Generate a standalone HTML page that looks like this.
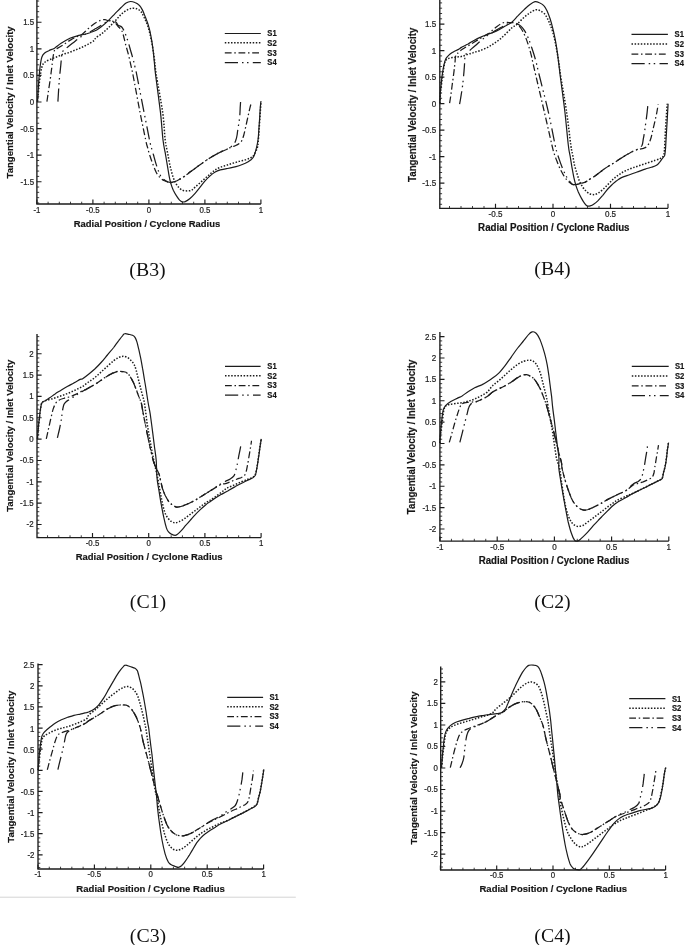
<!DOCTYPE html>
<html><head><meta charset="utf-8"><title>Tangential velocity profiles</title>
<style>
html,body{margin:0;padding:0;background:#fff;}
body{width:685px;height:945px;overflow:hidden;}
svg{display:block;filter:blur(0.35px);font-family:"Liberation Sans",sans-serif;}
</style></head><body>
<svg width="685" height="945" viewBox="0 0 685 945">
<rect width="685" height="945" fill="#fff"/>
<line x1="0" y1="897.2" x2="295.8" y2="897.2" stroke="#d4d4d4" stroke-width="1"/>
<g id="B3"><path d="M36.90 -2.00V204.00H260.90" fill="none" stroke="#1c1c1c" stroke-width="1.35"/>
<path d="M36.90 204.00v-4.6M92.90 204.00v-4.6M148.90 204.00v-4.6M204.90 204.00v-4.6M260.90 204.00v-4.6M36.90 181.72h4.6M36.90 155.15h4.6M36.90 128.57h4.6M36.90 102.00h4.6M36.90 75.42h4.6M36.90 48.85h4.6M36.90 22.28h4.6" fill="none" stroke="#1c1c1c" stroke-width="1.15"/>
<path d="M48.10 204.00v-2.3M59.30 204.00v-2.3M70.50 204.00v-2.3M81.70 204.00v-2.3M104.10 204.00v-2.3M115.30 204.00v-2.3M126.50 204.00v-2.3M137.70 204.00v-2.3M160.10 204.00v-2.3M171.30 204.00v-2.3M182.50 204.00v-2.3M193.70 204.00v-2.3M216.10 204.00v-2.3M227.30 204.00v-2.3M238.50 204.00v-2.3M249.70 204.00v-2.3M36.90 202.99h2.3M36.90 197.67h2.3M36.90 192.35h2.3M36.90 187.04h2.3M36.90 176.41h2.3M36.90 171.09h2.3M36.90 165.78h2.3M36.90 160.47h2.3M36.90 149.84h2.3M36.90 144.52h2.3M36.90 139.20h2.3M36.90 133.89h2.3M36.90 123.26h2.3M36.90 117.94h2.3M36.90 112.63h2.3M36.90 107.31h2.3M36.90 96.69h2.3M36.90 91.37h2.3M36.90 86.06h2.3M36.90 80.74h2.3M36.90 70.11h2.3M36.90 64.80h2.3M36.90 59.48h2.3M36.90 54.16h2.3M36.90 43.53h2.3M36.90 38.22h2.3M36.90 32.91h2.3M36.90 27.59h2.3M36.90 16.96h2.3M36.90 11.65h2.3M36.90 6.33h2.3M36.90 1.02h2.3" fill="none" stroke="#1c1c1c" stroke-width="0.85"/>
<text transform="translate(36.9 212.7) scale(0.92 1)" font-size="8.56" text-anchor="middle" fill="#222" stroke="#222" stroke-width="0.22">-1</text>
<text transform="translate(92.9 212.7) scale(0.92 1)" font-size="8.56" text-anchor="middle" fill="#222" stroke="#222" stroke-width="0.22">-0.5</text>
<text transform="translate(148.9 212.7) scale(0.92 1)" font-size="8.56" text-anchor="middle" fill="#222" stroke="#222" stroke-width="0.22">0</text>
<text transform="translate(204.9 212.7) scale(0.92 1)" font-size="8.56" text-anchor="middle" fill="#222" stroke="#222" stroke-width="0.22">0.5</text>
<text transform="translate(260.9 212.7) scale(0.92 1)" font-size="8.56" text-anchor="middle" fill="#222" stroke="#222" stroke-width="0.22">1</text>
<text transform="translate(34.1 25.2) scale(0.92 1)" font-size="8.56" text-anchor="end" fill="#222" stroke="#222" stroke-width="0.22">1.5</text>
<text transform="translate(34.1 51.7) scale(0.92 1)" font-size="8.56" text-anchor="end" fill="#222" stroke="#222" stroke-width="0.22">1</text>
<text transform="translate(34.1 78.3) scale(0.92 1)" font-size="8.56" text-anchor="end" fill="#222" stroke="#222" stroke-width="0.22">0.5</text>
<text transform="translate(34.1 104.9) scale(0.92 1)" font-size="8.56" text-anchor="end" fill="#222" stroke="#222" stroke-width="0.22">0</text>
<text transform="translate(34.1 131.5) scale(0.92 1)" font-size="8.56" text-anchor="end" fill="#222" stroke="#222" stroke-width="0.22">-0.5</text>
<text transform="translate(34.1 158.0) scale(0.92 1)" font-size="8.56" text-anchor="end" fill="#222" stroke="#222" stroke-width="0.22">-1</text>
<text transform="translate(34.1 184.6) scale(0.92 1)" font-size="8.56" text-anchor="end" fill="#222" stroke="#222" stroke-width="0.22">-1.5</text>
<text transform="translate(147.0 226.8) scale(0.965 1)" font-size="9.76" font-weight="bold" text-anchor="middle" fill="#151515" stroke="#151515" stroke-width="0.18">Radial Position / Cyclone Radius</text>
<text transform="translate(12.8 102.4) rotate(-90) scale(0.965 1)" font-size="9.91" font-weight="bold" text-anchor="middle" fill="#151515" stroke="#151515" stroke-width="0.18">Tangential Velocity / Inlet Velocity</text>
<line x1="224.8" y1="33.5" x2="260.8" y2="33.5" stroke="#1c1c1c" stroke-width="1.2"/>
<text transform="translate(267.3 36.4) scale(0.88 1)" font-size="8.7" font-weight="bold" fill="#151515" stroke="#151515" stroke-width="0.18">S1</text>
<line x1="224.8" y1="42.8" x2="260.8" y2="42.8" stroke="#1c1c1c" stroke-width="1.5" stroke-dasharray="1.5 1.6"/>
<text transform="translate(267.3 45.6) scale(0.88 1)" font-size="8.7" font-weight="bold" fill="#151515" stroke="#151515" stroke-width="0.18">S2</text>
<line x1="224.8" y1="52.8" x2="260.8" y2="52.8" stroke="#1c1c1c" stroke-width="1.25" stroke-dasharray="6.8 2.7 1.5 2.7"/>
<text transform="translate(267.3 55.6) scale(0.88 1)" font-size="8.7" font-weight="bold" fill="#151515" stroke="#151515" stroke-width="0.18">S3</text>
<line x1="224.8" y1="62.5" x2="260.8" y2="62.5" stroke="#1c1c1c" stroke-width="1.25" stroke-dasharray="13.2 4 1.5 3.5 1.5 4.3"/>
<text transform="translate(267.3 65.4) scale(0.88 1)" font-size="8.7" font-weight="bold" fill="#151515" stroke="#151515" stroke-width="0.18">S4</text>
<path d="M37.5 101.6C37.6 99.7 37.9 94.2 38.2 90.3C38.4 86.3 38.7 81.9 39.0 77.7C39.4 73.5 39.8 68.6 40.3 65.1C40.8 61.7 41.2 58.9 41.9 57.0C42.6 55.0 43.3 54.2 44.4 53.2C45.6 52.1 47.2 51.5 48.8 50.7C50.5 49.8 52.4 49.4 54.5 48.2C56.5 46.9 58.5 45.0 61.1 43.3C63.7 41.7 67.2 39.6 69.9 38.3C72.6 37.1 75.1 36.4 77.4 35.8C79.7 35.2 81.6 35.1 83.7 34.5C85.8 34.0 87.9 33.4 90.0 32.7C92.1 31.9 94.2 31.3 96.3 30.2C98.4 29.0 100.4 27.4 102.5 25.8C104.6 24.1 106.8 22.1 108.8 20.1C110.9 18.1 112.8 15.9 114.8 13.8C116.9 11.7 119.2 9.3 121.1 7.5C123.0 5.8 124.6 4.1 126.1 3.1C127.7 2.1 129.1 1.6 130.5 1.5C132.0 1.4 133.5 1.9 134.9 2.5C136.4 3.1 138.1 4.0 139.3 5.3C140.6 6.5 141.4 8.0 142.5 10.1C143.5 12.1 144.5 14.9 145.6 17.6C146.6 20.3 147.8 23.0 148.7 26.4C149.7 29.7 150.5 33.7 151.2 37.7C152.0 41.7 152.6 46.1 153.1 50.3C153.6 54.4 154.0 58.7 154.4 62.8C154.8 66.9 154.6 66.7 155.6 75.0C156.7 83.3 159.2 101.9 160.5 112.7C161.7 123.5 162.2 133.4 163.0 140.0C163.8 146.6 164.4 148.4 165.2 152.6C165.9 156.8 166.6 161.1 167.3 165.1C168.0 169.1 168.6 173.4 169.2 176.4C169.8 179.5 170.1 181.0 170.8 183.3C171.5 185.6 172.4 188.2 173.3 190.3C174.3 192.3 175.4 194.3 176.5 195.9C177.5 197.5 178.7 199.1 179.6 200.1C180.5 201.0 181.2 201.6 182.1 201.8C183.0 202.1 183.9 202.1 185.2 201.6C186.6 201.0 188.4 199.8 190.0 198.5C191.7 197.1 193.4 195.3 195.1 193.4C196.7 191.6 198.4 189.3 200.1 187.2C201.8 185.1 203.4 182.8 205.1 180.9C206.8 179.0 208.5 177.3 210.1 175.9C211.8 174.4 213.5 173.1 215.2 172.1C216.8 171.1 218.3 170.5 220.2 169.9C222.1 169.4 224.4 169.1 226.5 168.7C228.5 168.3 230.6 167.9 232.7 167.4C234.8 167.0 236.9 166.5 239.0 165.8C241.1 165.1 243.4 164.2 245.3 163.3C247.2 162.3 248.8 161.4 250.3 160.2C251.8 158.9 252.8 158.9 254.1 155.8C255.3 152.6 257.0 145.7 257.8 141.5C258.6 137.2 258.5 134.2 258.8 130.2C259.1 126.2 259.4 121.4 259.7 117.6C259.9 113.8 260.1 110.3 260.3 107.6C260.5 104.8 260.8 102.3 260.9 101.3" fill="none" stroke="#1c1c1c" stroke-width="1.2" stroke-linejoin="round"/>
<path d="M37.5 101.6C37.7 99.3 38.3 92.6 38.8 87.7C39.3 82.9 40.0 76.4 40.7 72.7C41.3 68.9 41.8 66.9 42.6 65.1C43.3 63.3 43.8 62.9 45.1 62.0C46.3 61.0 48.2 60.3 50.1 59.5C52.0 58.6 54.3 57.8 56.4 57.0C58.5 56.1 60.6 55.2 62.6 54.4C64.7 53.7 66.8 53.3 68.9 52.6C71.0 51.8 73.1 50.9 75.2 50.1C77.3 49.2 79.4 48.5 81.5 47.5C83.6 46.6 85.7 45.5 87.8 44.4C89.8 43.2 92.7 41.7 94.0 40.6C95.4 39.5 94.6 38.9 96.0 37.7C97.4 36.5 100.2 35.0 102.3 33.3C104.4 31.6 106.5 29.6 108.6 27.6C110.6 25.6 112.7 23.6 114.8 21.4C116.9 19.2 119.0 16.4 121.1 14.4C123.2 12.5 125.5 10.8 127.4 9.8C129.3 8.8 130.7 8.3 132.4 8.2C134.1 8.0 136.0 8.4 137.4 9.0C138.9 9.7 140.0 10.5 141.2 11.9C142.3 13.4 143.3 15.4 144.3 17.6C145.4 19.8 146.5 22.4 147.5 25.1C148.4 27.8 149.1 30.4 150.0 33.9C150.8 37.5 151.8 42.3 152.5 46.5C153.2 50.7 153.8 54.3 154.4 59.0C155.0 63.8 154.9 66.1 156.3 75.0C157.7 83.9 161.2 101.9 162.7 112.7C164.2 123.5 164.4 133.8 165.2 140.0C165.9 146.2 166.4 146.7 167.0 150.1C167.7 153.4 168.3 157.0 168.9 160.1C169.5 163.2 170.1 166.0 170.8 168.9C171.5 171.8 172.5 175.3 173.3 177.7C174.2 180.1 174.9 181.7 175.8 183.3C176.8 185.0 177.8 186.6 179.0 187.7C180.1 188.9 181.4 189.7 182.7 190.3C184.1 190.8 185.7 190.9 187.1 190.9C188.6 190.9 190.2 190.9 191.5 190.3C192.8 189.6 193.6 188.4 195.1 187.2C196.5 185.9 198.4 184.2 200.1 182.8C201.8 181.3 203.4 179.8 205.1 178.4C206.8 176.9 208.5 175.4 210.1 174.0C211.8 172.6 213.5 171.0 215.2 169.9C216.8 168.9 218.3 168.2 220.2 167.4C222.1 166.6 224.4 165.9 226.5 165.2C228.5 164.5 230.6 163.9 232.7 163.3C234.8 162.7 236.9 162.0 239.0 161.4C241.1 160.8 243.4 160.5 245.3 159.9C247.2 159.3 248.9 158.6 250.3 157.9C251.7 157.2 252.3 157.4 253.4 155.8C254.6 154.1 256.5 150.1 257.3 147.8C258.1 145.4 257.9 144.4 258.2 141.5C258.5 138.6 258.8 134.2 259.1 130.2C259.3 126.2 259.7 121.4 259.9 117.6C260.2 113.8 260.4 110.3 260.6 107.6C260.7 104.8 261.0 102.3 261.1 101.3" fill="none" stroke="#1c1c1c" stroke-width="1.5" stroke-dasharray="1.5 1.6" stroke-linejoin="round"/>
<path d="M46.9 101.6C47.2 100.1 47.7 96.3 48.2 92.8C48.7 89.2 49.5 84.2 50.1 80.2C50.7 76.2 51.1 72.5 51.6 68.9C52.1 65.3 52.5 61.6 52.8 58.8C53.2 56.1 53.5 54.1 53.9 52.6C54.2 51.0 54.5 50.1 55.1 49.4C55.7 48.7 55.9 49.2 57.3 48.4C58.8 47.6 61.3 46.1 63.6 44.6C65.9 43.1 68.6 41.0 71.2 39.6C73.7 38.1 76.8 36.7 78.7 35.8C80.6 34.9 80.8 35.2 82.5 33.9C84.1 32.7 86.6 30.0 88.7 28.3C90.8 26.5 92.9 24.6 95.0 23.2C97.1 21.9 99.6 20.7 101.3 20.1C103.0 19.5 104.0 19.7 105.1 19.7C106.1 19.8 106.2 20.1 107.3 20.4C108.4 20.6 110.4 20.8 111.7 21.1C112.9 21.4 113.8 21.5 114.8 22.4C115.9 23.2 116.9 25.2 118.0 26.4C119.0 27.6 120.3 28.3 121.1 29.5C121.9 30.8 122.3 31.5 123.0 33.9C123.7 36.3 124.6 40.4 125.5 44.0C126.4 47.5 127.7 51.5 128.6 55.3C129.6 59.0 130.4 63.3 131.2 66.6C131.9 69.9 131.5 67.3 133.0 75.0C134.5 82.7 138.0 101.9 140.1 112.7C142.2 123.5 144.5 134.2 145.7 140.0C146.9 145.8 146.8 144.8 147.6 147.5C148.3 150.3 149.1 153.4 150.1 156.3C151.0 159.3 152.2 162.4 153.2 165.1C154.3 167.8 155.2 170.6 156.4 172.7C157.5 174.8 158.8 176.3 160.1 177.7C161.5 179.0 162.9 180.0 164.5 180.8C166.2 181.6 168.4 182.4 170.2 182.5C172.0 182.6 173.5 182.0 175.2 181.5C176.9 180.9 178.5 179.9 180.2 178.9C181.9 178.0 183.6 176.9 185.2 175.8C186.9 174.7 188.2 173.5 190.0 172.1C191.9 170.7 194.2 169.0 196.3 167.4C198.4 165.9 200.5 164.4 202.6 162.9C204.7 161.4 206.8 160.0 208.9 158.6C211.0 157.3 213.1 156.0 215.2 154.9C217.2 153.7 219.5 152.5 221.4 151.6C223.3 150.7 225.0 150.1 226.5 149.5C227.9 148.8 228.8 148.2 230.2 147.6C231.7 147.0 233.7 146.4 235.2 145.7C236.8 145.0 238.5 144.1 239.6 143.2C240.8 142.2 241.5 141.4 242.1 140.1C242.8 138.7 243.3 136.7 243.8 135.0C244.3 133.4 244.3 133.1 245.0 130.0C245.7 126.9 247.2 120.1 248.0 116.4C248.8 112.6 249.4 110.0 250.0 107.6C250.6 105.2 251.3 102.9 251.5 101.9" fill="none" stroke="#1c1c1c" stroke-width="1.25" stroke-dasharray="6.8 2.7 1.5 2.7" stroke-linejoin="round"/>
<path d="M57.9 101.6C58.0 99.7 58.4 94.2 58.6 90.3C58.9 86.3 59.1 81.9 59.5 77.7C59.9 73.5 60.4 68.7 60.8 65.1C61.1 61.6 61.4 58.5 61.6 56.3C61.9 54.1 61.6 53.3 62.4 51.9C63.1 50.6 64.5 49.8 66.1 48.4C67.8 46.9 70.3 45.0 72.4 43.3C74.5 41.7 76.8 39.7 78.7 38.3C80.6 37.0 81.8 36.2 83.7 35.2C85.6 34.1 87.9 33.2 90.0 32.0C92.1 30.9 94.2 29.5 96.3 28.3C98.4 27.0 100.7 25.6 102.5 24.5C104.4 23.3 105.9 22.0 107.6 21.4C109.2 20.7 111.1 20.5 112.6 20.7C114.0 20.9 115.5 21.9 116.4 22.6C117.2 23.3 117.1 24.4 118.0 25.1C118.9 25.9 120.6 25.8 121.7 27.0C122.9 28.3 123.8 30.3 124.9 32.7C125.9 35.1 127.1 38.5 128.0 41.5C129.0 44.4 129.7 47.3 130.5 50.3C131.4 53.2 132.3 56.3 133.0 59.0C133.8 61.8 134.3 63.9 134.9 66.6C135.5 69.2 135.3 67.3 136.8 75.0C138.3 82.7 142.0 101.9 144.1 112.7C146.3 123.5 148.3 134.2 149.5 140.0C150.7 145.8 150.6 144.8 151.3 147.5C152.1 150.3 153.0 153.4 153.9 156.3C154.7 159.3 155.5 162.5 156.4 165.1C157.2 167.7 158.0 170.0 158.9 172.0C159.7 174.0 160.3 175.7 161.4 177.1C162.4 178.5 163.7 179.6 165.2 180.5C166.6 181.4 168.5 182.3 170.2 182.5C171.8 182.6 173.5 182.0 175.2 181.5C176.9 180.9 178.5 179.9 180.2 178.9C181.9 178.0 183.6 176.9 185.2 175.8C186.9 174.7 188.2 173.5 190.0 172.1C191.9 170.7 194.2 169.0 196.3 167.4C198.4 165.9 200.5 164.4 202.6 162.9C204.7 161.4 206.8 160.0 208.9 158.6C211.0 157.3 213.1 156.0 215.2 154.9C217.2 153.7 219.5 152.5 221.4 151.6C223.3 150.7 225.0 150.2 226.5 149.5C227.9 148.8 229.0 148.3 230.2 147.3C231.5 146.4 233.0 145.0 234.0 143.8C234.9 142.6 235.3 141.5 235.9 140.1C236.4 138.6 236.8 136.7 237.1 135.0C237.4 133.4 237.3 132.9 237.8 130.0C238.2 127.1 239.2 121.4 239.6 117.6C240.0 113.9 240.1 110.2 240.2 107.6C240.4 104.9 240.5 102.9 240.6 101.9" fill="none" stroke="#1c1c1c" stroke-width="1.25" stroke-dasharray="13.2 4 1.5 3.5 1.5 4.3" stroke-linejoin="round"/>
<text x="147.5" y="275.5" font-size="19.8" font-family="'Liberation Serif', serif" text-anchor="middle" fill="#111">(B3)</text></g>
<g id="B4"><path d="M439.80 -2.00V208.30H668.00" fill="none" stroke="#1c1c1c" stroke-width="1.35"/>
<path d="M495.50 208.30v-4.6M553.00 208.30v-4.6M610.50 208.30v-4.6M668.00 208.30v-4.6M439.80 183.10h4.6M439.80 156.60h4.6M439.80 130.10h4.6M439.80 103.60h4.6M439.80 77.10h4.6M439.80 50.60h4.6M439.80 24.10h4.6" fill="none" stroke="#1c1c1c" stroke-width="1.15"/>
<path d="M449.50 208.30v-2.3M461.00 208.30v-2.3M472.50 208.30v-2.3M484.00 208.30v-2.3M507.00 208.30v-2.3M518.50 208.30v-2.3M530.00 208.30v-2.3M541.50 208.30v-2.3M564.50 208.30v-2.3M576.00 208.30v-2.3M587.50 208.30v-2.3M599.00 208.30v-2.3M622.00 208.30v-2.3M633.50 208.30v-2.3M645.00 208.30v-2.3M656.50 208.30v-2.3M439.80 204.30h2.3M439.80 199.00h2.3M439.80 193.70h2.3M439.80 188.40h2.3M439.80 177.80h2.3M439.80 172.50h2.3M439.80 167.20h2.3M439.80 161.90h2.3M439.80 151.30h2.3M439.80 146.00h2.3M439.80 140.70h2.3M439.80 135.40h2.3M439.80 124.80h2.3M439.80 119.50h2.3M439.80 114.20h2.3M439.80 108.90h2.3M439.80 98.30h2.3M439.80 93.00h2.3M439.80 87.70h2.3M439.80 82.40h2.3M439.80 71.80h2.3M439.80 66.50h2.3M439.80 61.20h2.3M439.80 55.90h2.3M439.80 45.30h2.3M439.80 40.00h2.3M439.80 34.70h2.3M439.80 29.40h2.3M439.80 18.80h2.3M439.80 13.50h2.3M439.80 8.20h2.3M439.80 2.90h2.3" fill="none" stroke="#1c1c1c" stroke-width="0.85"/>
<text transform="translate(495.5 217.0) scale(0.92 1)" font-size="8.77" text-anchor="middle" fill="#222" stroke="#222" stroke-width="0.22">-0.5</text>
<text transform="translate(553.0 217.0) scale(0.92 1)" font-size="8.77" text-anchor="middle" fill="#222" stroke="#222" stroke-width="0.22">0</text>
<text transform="translate(610.5 217.0) scale(0.92 1)" font-size="8.77" text-anchor="middle" fill="#222" stroke="#222" stroke-width="0.22">0.5</text>
<text transform="translate(668.0 217.0) scale(0.92 1)" font-size="8.77" text-anchor="middle" fill="#222" stroke="#222" stroke-width="0.22">1</text>
<text transform="translate(436.2 27.1) scale(0.92 1)" font-size="8.77" text-anchor="end" fill="#222" stroke="#222" stroke-width="0.22">1.5</text>
<text transform="translate(436.2 53.6) scale(0.92 1)" font-size="8.77" text-anchor="end" fill="#222" stroke="#222" stroke-width="0.22">1</text>
<text transform="translate(436.2 80.1) scale(0.92 1)" font-size="8.77" text-anchor="end" fill="#222" stroke="#222" stroke-width="0.22">0.5</text>
<text transform="translate(436.2 106.6) scale(0.92 1)" font-size="8.77" text-anchor="end" fill="#222" stroke="#222" stroke-width="0.22">0</text>
<text transform="translate(436.2 133.1) scale(0.92 1)" font-size="8.77" text-anchor="end" fill="#222" stroke="#222" stroke-width="0.22">-0.5</text>
<text transform="translate(436.2 159.6) scale(0.92 1)" font-size="8.77" text-anchor="end" fill="#222" stroke="#222" stroke-width="0.22">-1</text>
<text transform="translate(436.2 186.1) scale(0.92 1)" font-size="8.77" text-anchor="end" fill="#222" stroke="#222" stroke-width="0.22">-1.5</text>
<text transform="translate(553.8 230.5) scale(0.965 1)" font-size="10.10" font-weight="bold" text-anchor="middle" fill="#151515" stroke="#151515" stroke-width="0.18">Radial Position / Cyclone Radius</text>
<text transform="translate(415.9 104.8) rotate(-90) scale(0.965 1)" font-size="10.05" font-weight="bold" text-anchor="middle" fill="#151515" stroke="#151515" stroke-width="0.18">Tangential Velocity / Inlet Velocity</text>
<line x1="631.5" y1="34.3" x2="667.9" y2="34.3" stroke="#1c1c1c" stroke-width="1.2"/>
<text transform="translate(674.6 37.2) scale(0.88 1)" font-size="8.7" font-weight="bold" fill="#151515" stroke="#151515" stroke-width="0.18">S1</text>
<line x1="631.5" y1="44.0" x2="667.9" y2="44.0" stroke="#1c1c1c" stroke-width="1.5" stroke-dasharray="1.5 1.6"/>
<text transform="translate(674.6 46.9) scale(0.88 1)" font-size="8.7" font-weight="bold" fill="#151515" stroke="#151515" stroke-width="0.18">S2</text>
<line x1="631.5" y1="54.0" x2="667.9" y2="54.0" stroke="#1c1c1c" stroke-width="1.25" stroke-dasharray="6.8 2.7 1.5 2.7"/>
<text transform="translate(674.6 56.9) scale(0.88 1)" font-size="8.7" font-weight="bold" fill="#151515" stroke="#151515" stroke-width="0.18">S3</text>
<line x1="631.5" y1="63.5" x2="667.9" y2="63.5" stroke="#1c1c1c" stroke-width="1.25" stroke-dasharray="13.2 4 1.5 3.5 1.5 4.3"/>
<text transform="translate(674.6 66.4) scale(0.88 1)" font-size="8.7" font-weight="bold" fill="#151515" stroke="#151515" stroke-width="0.18">S4</text>
<path d="M439.8 103.2C439.9 101.0 440.2 94.7 440.5 90.3C440.9 85.8 441.5 80.6 442.0 76.4C442.6 72.2 443.3 68.1 443.9 65.1C444.6 62.2 445.0 60.5 445.8 58.8C446.6 57.2 447.7 56.2 448.9 55.1C450.2 53.9 451.8 52.9 453.3 51.9C454.9 51.0 456.9 50.2 458.4 49.4C459.8 48.6 460.2 48.0 461.9 47.1C463.5 46.2 466.0 45.1 468.1 44.0C470.2 42.8 472.3 41.4 474.4 40.2C476.5 39.0 478.6 38.0 480.7 37.1C482.8 36.1 484.9 35.3 487.0 34.5C489.1 33.8 491.1 33.2 493.2 32.4C495.3 31.6 497.4 30.6 499.5 29.5C501.6 28.4 503.7 27.0 505.8 25.8C507.9 24.5 510.0 23.7 512.1 22.0C514.1 20.3 516.0 17.8 518.1 15.7C520.1 13.6 522.4 11.3 524.4 9.4C526.4 7.5 528.2 5.7 530.0 4.4C531.8 3.1 533.5 1.9 535.0 1.6C536.6 1.4 538.0 2.1 539.4 2.8C540.9 3.4 542.6 4.3 543.8 5.7C545.1 7.0 545.9 8.5 547.0 10.7C548.0 12.9 549.2 16.0 550.1 18.8C551.0 21.7 551.8 24.3 552.6 27.6C553.5 31.0 554.4 35.2 555.1 38.9C555.9 42.7 556.4 46.5 557.0 50.3C557.6 54.0 558.0 57.4 558.5 61.6C559.0 65.7 559.1 66.5 560.1 75.0C561.2 83.5 563.6 101.0 565.0 112.7C566.3 124.4 567.4 137.7 568.3 145.0C569.1 152.3 569.5 152.5 570.2 156.3C570.8 160.1 571.4 164.1 572.0 167.6C572.7 171.2 573.3 174.7 573.9 177.7C574.5 180.6 575.1 182.8 575.8 185.2C576.5 187.6 577.4 189.9 578.3 192.1C579.3 194.3 580.4 196.5 581.5 198.4C582.5 200.3 583.7 202.2 584.6 203.4C585.5 204.7 586.2 205.5 587.1 205.9C588.0 206.3 589.1 206.2 590.2 205.9C591.4 205.6 592.8 204.9 594.0 204.0C595.3 203.2 596.3 202.4 597.8 200.9C599.2 199.4 601.1 197.2 602.8 195.3C604.5 193.3 606.1 190.9 607.8 189.0C609.5 187.1 611.4 185.3 612.8 183.9C614.3 182.6 615.2 181.8 616.6 180.8C618.0 179.8 619.0 178.9 621.0 177.9C623.0 176.9 626.3 175.9 628.9 175.0C631.5 174.1 633.7 173.2 636.4 172.2C639.2 171.3 642.7 169.9 645.2 169.1C647.7 168.3 649.6 167.8 651.5 167.2C653.4 166.6 655.2 166.2 656.5 165.3C657.9 164.5 658.6 163.4 659.7 162.2C660.7 160.9 662.0 158.9 662.8 157.8C663.6 156.6 664.2 157.0 664.7 155.3C665.1 153.6 665.3 151.1 665.6 147.7C665.8 144.4 666.0 139.8 666.3 135.2C666.6 130.6 666.9 125.3 667.2 120.1C667.5 114.9 667.9 106.5 668.1 103.8" fill="none" stroke="#1c1c1c" stroke-width="1.2" stroke-linejoin="round"/>
<path d="M439.8 103.2C440.0 101.0 440.4 94.5 440.8 90.3C441.2 86.0 441.8 81.6 442.3 77.7C442.8 73.8 443.4 69.7 443.9 67.0C444.4 64.3 444.6 62.7 445.2 61.4C445.8 60.0 446.5 59.5 447.7 58.8C448.8 58.2 450.5 57.9 452.1 57.6C453.7 57.3 455.4 57.2 457.1 57.0C458.8 56.8 460.4 56.8 462.1 56.3C463.9 55.9 465.9 55.1 467.8 54.4C469.7 53.8 471.4 53.2 473.4 52.6C475.4 51.9 477.5 51.5 479.7 50.7C482.0 49.9 484.7 48.9 487.0 47.7C489.2 46.6 491.1 45.3 493.2 44.0C495.3 42.6 497.4 41.2 499.5 39.6C501.6 37.9 503.7 35.9 505.8 33.9C507.9 31.9 510.2 29.2 512.1 27.6C513.9 26.1 515.0 26.1 516.8 24.5C518.7 22.9 521.0 20.1 523.1 18.2C525.2 16.3 527.3 14.6 529.4 13.2C531.5 11.8 533.9 10.2 535.7 9.8C537.4 9.4 538.6 10.0 540.1 10.7C541.5 11.3 543.2 12.5 544.5 13.8C545.7 15.2 546.7 17.1 547.6 18.8C548.5 20.6 549.3 22.4 550.1 24.5C550.9 26.6 551.8 28.6 552.6 31.4C553.5 34.2 554.4 38.1 555.1 41.5C555.9 44.8 556.4 47.9 557.0 51.5C557.6 55.1 558.3 58.9 558.9 62.8C559.5 66.7 559.2 66.7 560.5 75.0C561.8 83.3 565.0 101.0 566.7 112.7C568.4 124.4 569.8 137.9 570.8 145.0C571.8 152.1 572.0 151.7 572.7 155.1C573.3 158.4 573.8 162.0 574.5 165.1C575.3 168.2 576.2 171.2 577.1 173.9C577.9 176.6 578.6 179.2 579.6 181.4C580.5 183.6 581.6 185.4 582.7 187.1C583.9 188.8 585.2 190.3 586.5 191.5C587.7 192.6 589.0 193.5 590.2 194.0C591.5 194.5 592.8 194.7 594.0 194.6C595.3 194.5 596.3 194.2 597.8 193.4C599.2 192.5 601.1 191.1 602.8 189.6C604.5 188.1 606.1 186.2 607.8 184.6C609.5 182.9 611.4 180.9 612.8 179.5C614.3 178.2 615.2 177.5 616.6 176.4C618.0 175.4 619.4 174.3 621.0 173.3C622.6 172.3 624.4 171.3 626.4 170.4C628.3 169.4 630.4 168.7 632.7 167.8C635.0 167.0 637.7 166.2 640.2 165.3C642.7 164.5 645.2 163.7 647.7 162.8C650.2 162.0 653.2 161.0 655.3 160.3C657.4 159.6 658.9 159.1 660.3 158.4C661.6 157.7 662.7 157.3 663.4 155.9C664.1 154.5 664.2 153.3 664.4 150.3C664.7 147.2 664.8 142.3 665.1 137.7C665.3 133.1 665.6 128.3 665.9 122.6C666.3 117.0 667.0 106.9 667.2 103.8" fill="none" stroke="#1c1c1c" stroke-width="1.5" stroke-dasharray="1.5 1.6" stroke-linejoin="round"/>
<path d="M449.6 103.2C449.8 101.9 450.4 98.5 450.8 95.3C451.3 92.1 451.8 87.9 452.3 84.0C452.9 80.0 453.5 75.0 454.0 71.4C454.4 67.8 454.7 65.1 455.0 62.6C455.2 60.1 455.2 57.8 455.6 56.3C456.0 54.9 456.1 54.9 457.1 53.8C458.2 52.7 460.2 50.8 461.9 49.6C463.5 48.4 465.0 47.6 466.9 46.5C468.8 45.3 471.1 44.0 473.2 42.7C475.2 41.5 477.3 40.2 479.4 38.9C481.5 37.7 484.0 36.2 485.7 35.2C487.4 34.2 488.2 33.9 489.5 32.9C490.7 32.0 492.0 30.6 493.2 29.5C494.5 28.4 495.8 27.3 497.0 26.4C498.3 25.4 499.5 24.5 500.8 23.9C502.0 23.2 503.3 22.6 504.5 22.4C505.8 22.1 507.1 22.3 508.3 22.4C509.5 22.4 510.5 22.5 511.8 22.6C513.1 22.8 514.8 22.5 516.2 23.2C517.6 24.0 518.8 25.5 520.0 27.0C521.1 28.5 522.1 30.0 523.1 32.0C524.2 34.0 525.3 36.5 526.2 38.9C527.2 41.4 527.9 43.8 528.8 46.5C529.6 49.2 530.5 52.3 531.3 55.3C532.0 58.2 532.4 60.8 533.2 64.1C533.9 67.4 533.8 66.9 535.7 75.0C537.6 83.1 541.8 101.0 544.5 112.7C547.2 124.4 550.4 138.4 551.9 145.0C553.5 151.6 553.0 149.8 553.8 152.5C554.7 155.3 555.9 158.6 557.0 161.3C558.0 164.1 559.0 166.5 560.1 168.9C561.3 171.3 562.6 173.8 563.9 175.8C565.1 177.8 566.3 179.4 567.6 180.8C569.0 182.2 570.8 183.5 572.0 184.2C573.3 184.8 573.7 184.8 575.2 184.7C576.6 184.6 579.2 183.8 580.8 183.3C582.5 182.9 583.7 182.8 585.2 182.1C586.8 181.3 588.6 180.0 590.2 178.9C591.9 177.9 593.6 176.9 595.3 175.8C596.9 174.6 598.6 173.3 600.3 172.0C602.0 170.8 603.6 169.4 605.3 168.2C607.0 167.1 608.7 166.1 610.3 165.1C612.0 164.1 613.6 163.1 615.4 162.0C617.1 160.8 618.5 159.7 621.0 158.2C623.5 156.7 627.8 154.1 630.2 152.8C632.5 151.4 633.6 150.8 635.2 150.3C636.7 149.7 638.2 149.6 639.6 149.2C640.9 148.9 642.2 148.8 643.3 148.4C644.5 147.9 645.5 147.6 646.5 146.7C647.4 145.9 648.3 144.7 649.0 143.3C649.7 141.9 650.3 140.3 650.9 138.3C651.5 136.3 651.9 134.0 652.5 131.4C653.1 128.8 653.9 125.8 654.6 122.6C655.3 119.5 656.2 115.6 656.8 112.6C657.4 109.5 657.9 105.8 658.2 104.4" fill="none" stroke="#1c1c1c" stroke-width="1.25" stroke-dasharray="6.8 2.7 1.5 2.7" stroke-linejoin="round"/>
<path d="M459.6 104.1C459.9 102.6 460.6 98.6 461.1 95.3C461.7 91.9 462.3 87.9 462.8 84.0C463.2 80.0 463.7 75.0 464.0 71.4C464.3 67.8 464.5 64.9 464.6 62.6C464.8 60.3 464.7 58.9 464.9 57.6C465.1 56.2 465.2 55.3 465.6 54.4C466.1 53.6 466.9 53.4 467.8 52.6C468.6 51.8 469.3 50.8 470.6 49.6C472.0 48.4 474.0 46.7 475.7 45.2C477.3 43.8 478.8 42.4 480.7 40.8C482.6 39.3 484.9 37.3 487.0 35.8C489.1 34.3 491.1 33.3 493.2 32.0C495.3 30.8 497.4 29.5 499.5 28.3C501.6 27.1 503.8 25.8 505.8 24.9C507.8 23.9 509.8 22.9 511.4 22.6C513.1 22.3 514.2 22.6 515.8 23.2C517.5 23.9 519.7 25.0 521.2 26.4C522.8 27.7 523.8 29.5 525.0 31.4C526.1 33.3 527.1 35.4 528.1 37.7C529.1 40.0 530.0 42.5 530.9 45.2C531.8 47.9 532.9 51.1 533.8 54.0C534.7 57.0 535.4 59.3 536.3 62.8C537.2 66.3 537.1 66.7 539.2 75.0C541.2 83.3 545.9 101.0 548.5 112.7C551.2 124.4 553.7 138.4 555.1 145.0C556.5 151.6 556.2 150.0 557.0 152.5C557.7 155.1 558.6 157.7 559.5 160.1C560.3 162.5 561.1 164.7 562.0 167.0C562.9 169.3 564.1 171.8 565.1 173.9C566.2 176.0 567.1 177.9 568.3 179.5C569.4 181.2 570.9 183.1 572.0 183.9C573.2 184.8 573.7 184.8 575.2 184.7C576.6 184.6 579.2 183.8 580.8 183.3C582.5 182.9 583.7 182.8 585.2 182.1C586.8 181.3 588.6 180.0 590.2 178.9C591.9 177.9 593.6 176.9 595.3 175.8C596.9 174.6 598.6 173.3 600.3 172.0C602.0 170.8 603.6 169.4 605.3 168.2C607.0 167.1 608.7 166.1 610.3 165.1C612.0 164.1 613.6 163.1 615.4 162.0C617.1 160.8 618.5 159.7 621.0 158.2C623.5 156.7 627.8 154.1 630.2 152.8C632.5 151.4 633.7 151.0 635.2 150.3C636.6 149.5 637.8 149.2 638.9 148.4C640.1 147.5 641.3 146.8 642.1 145.2C642.8 143.7 642.9 141.2 643.3 138.9C643.8 136.6 644.2 134.1 644.6 131.4C645.0 128.7 645.4 125.8 645.8 122.6C646.3 119.5 646.7 115.7 647.1 112.6C647.5 109.4 647.8 105.2 648.0 103.8" fill="none" stroke="#1c1c1c" stroke-width="1.25" stroke-dasharray="13.2 4 1.5 3.5 1.5 4.3" stroke-linejoin="round"/>
<text x="552.5" y="275.4" font-size="19.8" font-family="'Liberation Serif', serif" text-anchor="middle" fill="#111">(B4)</text></g>
<g id="C1"><path d="M37.00 334.00V537.60H261.10" fill="none" stroke="#1c1c1c" stroke-width="1.35"/>
<path d="M92.50 537.60v-4.6M148.70 537.60v-4.6M204.90 537.60v-4.6M261.10 537.60v-4.6M37.00 524.50h4.6M37.00 503.15h4.6M37.00 481.80h4.6M37.00 460.45h4.6M37.00 439.10h4.6M37.00 417.75h4.6M37.00 396.40h4.6M37.00 375.05h4.6M37.00 353.70h4.6" fill="none" stroke="#1c1c1c" stroke-width="1.15"/>
<path d="M47.54 537.60v-2.3M58.78 537.60v-2.3M70.02 537.60v-2.3M81.26 537.60v-2.3M103.74 537.60v-2.3M114.98 537.60v-2.3M126.22 537.60v-2.3M137.46 537.60v-2.3M159.94 537.60v-2.3M171.18 537.60v-2.3M182.42 537.60v-2.3M193.66 537.60v-2.3M216.14 537.60v-2.3M227.38 537.60v-2.3M238.62 537.60v-2.3M249.86 537.60v-2.3M37.00 537.31h2.3M37.00 533.04h2.3M37.00 528.77h2.3M37.00 520.23h2.3M37.00 515.96h2.3M37.00 511.69h2.3M37.00 507.42h2.3M37.00 498.88h2.3M37.00 494.61h2.3M37.00 490.34h2.3M37.00 486.07h2.3M37.00 477.53h2.3M37.00 473.26h2.3M37.00 468.99h2.3M37.00 464.72h2.3M37.00 456.18h2.3M37.00 451.91h2.3M37.00 447.64h2.3M37.00 443.37h2.3M37.00 434.83h2.3M37.00 430.56h2.3M37.00 426.29h2.3M37.00 422.02h2.3M37.00 413.48h2.3M37.00 409.21h2.3M37.00 404.94h2.3M37.00 400.67h2.3M37.00 392.13h2.3M37.00 387.86h2.3M37.00 383.59h2.3M37.00 379.32h2.3M37.00 370.78h2.3M37.00 366.51h2.3M37.00 362.24h2.3M37.00 357.97h2.3M37.00 349.43h2.3M37.00 345.16h2.3M37.00 340.89h2.3M37.00 336.62h2.3" fill="none" stroke="#1c1c1c" stroke-width="0.85"/>
<text transform="translate(92.5 546.0) scale(0.92 1)" font-size="8.56" text-anchor="middle" fill="#222" stroke="#222" stroke-width="0.22">-0.5</text>
<text transform="translate(148.7 546.0) scale(0.92 1)" font-size="8.56" text-anchor="middle" fill="#222" stroke="#222" stroke-width="0.22">0</text>
<text transform="translate(204.9 546.0) scale(0.92 1)" font-size="8.56" text-anchor="middle" fill="#222" stroke="#222" stroke-width="0.22">0.5</text>
<text transform="translate(261.1 546.0) scale(0.92 1)" font-size="8.56" text-anchor="middle" fill="#222" stroke="#222" stroke-width="0.22">1</text>
<text transform="translate(33.6 356.6) scale(0.92 1)" font-size="8.56" text-anchor="end" fill="#222" stroke="#222" stroke-width="0.22">2</text>
<text transform="translate(33.6 377.9) scale(0.92 1)" font-size="8.56" text-anchor="end" fill="#222" stroke="#222" stroke-width="0.22">1.5</text>
<text transform="translate(33.6 399.3) scale(0.92 1)" font-size="8.56" text-anchor="end" fill="#222" stroke="#222" stroke-width="0.22">1</text>
<text transform="translate(33.6 420.6) scale(0.92 1)" font-size="8.56" text-anchor="end" fill="#222" stroke="#222" stroke-width="0.22">0.5</text>
<text transform="translate(33.6 442.0) scale(0.92 1)" font-size="8.56" text-anchor="end" fill="#222" stroke="#222" stroke-width="0.22">0</text>
<text transform="translate(33.6 463.3) scale(0.92 1)" font-size="8.56" text-anchor="end" fill="#222" stroke="#222" stroke-width="0.22">-0.5</text>
<text transform="translate(33.6 484.7) scale(0.92 1)" font-size="8.56" text-anchor="end" fill="#222" stroke="#222" stroke-width="0.22">-1</text>
<text transform="translate(33.6 506.0) scale(0.92 1)" font-size="8.56" text-anchor="end" fill="#222" stroke="#222" stroke-width="0.22">-1.5</text>
<text transform="translate(33.6 527.4) scale(0.92 1)" font-size="8.56" text-anchor="end" fill="#222" stroke="#222" stroke-width="0.22">-2</text>
<text transform="translate(149.1 560.0) scale(0.965 1)" font-size="9.79" font-weight="bold" text-anchor="middle" fill="#151515" stroke="#151515" stroke-width="0.18">Radial Position / Cyclone Radius</text>
<text transform="translate(12.8 435.8) rotate(-90) scale(0.965 1)" font-size="9.90" font-weight="bold" text-anchor="middle" fill="#151515" stroke="#151515" stroke-width="0.18">Tangential Velocity / Inlet Velocity</text>
<line x1="225.0" y1="366.4" x2="260.6" y2="366.4" stroke="#1c1c1c" stroke-width="1.2"/>
<text transform="translate(267.3 369.2) scale(0.88 1)" font-size="8.7" font-weight="bold" fill="#151515" stroke="#151515" stroke-width="0.18">S1</text>
<line x1="225.0" y1="375.8" x2="260.6" y2="375.8" stroke="#1c1c1c" stroke-width="1.5" stroke-dasharray="1.5 1.6"/>
<text transform="translate(267.3 378.7) scale(0.88 1)" font-size="8.7" font-weight="bold" fill="#151515" stroke="#151515" stroke-width="0.18">S2</text>
<line x1="225.0" y1="385.5" x2="260.6" y2="385.5" stroke="#1c1c1c" stroke-width="1.25" stroke-dasharray="6.8 2.7 1.5 2.7"/>
<text transform="translate(267.3 388.4) scale(0.88 1)" font-size="8.7" font-weight="bold" fill="#151515" stroke="#151515" stroke-width="0.18">S3</text>
<line x1="225.0" y1="395.0" x2="260.6" y2="395.0" stroke="#1c1c1c" stroke-width="1.25" stroke-dasharray="13.2 4 1.5 3.5 1.5 4.3"/>
<text transform="translate(267.3 397.9) scale(0.88 1)" font-size="8.7" font-weight="bold" fill="#151515" stroke="#151515" stroke-width="0.18">S4</text>
<path d="M37.5 438.8C37.6 437.2 37.8 432.6 38.2 429.0C38.5 425.5 39.0 421.3 39.4 417.7C39.8 414.2 40.3 410.2 40.7 407.7C41.1 405.2 41.2 404.1 41.9 402.9C42.7 401.8 43.7 401.7 45.1 400.8C46.4 399.9 48.4 398.8 50.1 397.6C51.8 396.5 53.2 395.1 55.1 393.9C57.0 392.6 59.3 391.4 61.4 390.1C63.5 388.8 65.6 387.5 67.7 386.3C69.8 385.1 71.8 384.1 73.9 382.9C76.0 381.8 78.8 380.1 80.2 379.4C81.6 378.7 80.9 379.7 82.3 378.9C83.7 378.0 86.5 375.9 88.6 374.2C90.6 372.6 92.7 370.9 94.8 369.0C96.9 367.0 99.0 364.9 101.1 362.5C103.2 360.2 105.3 357.5 107.4 355.0C109.5 352.5 111.8 349.9 113.7 347.5C115.5 345.1 117.2 342.5 118.7 340.6C120.2 338.6 121.4 336.9 122.5 335.8C123.5 334.6 123.7 333.9 124.7 333.7C125.8 333.4 127.4 334.0 128.7 334.3C130.0 334.6 131.5 334.8 132.5 335.3C133.5 335.8 134.3 336.3 135.0 337.4C135.7 338.5 136.3 339.8 136.9 341.8C137.5 343.8 138.1 346.6 138.8 349.4C139.4 352.1 140.0 355.0 140.7 358.2C141.3 361.3 141.9 364.6 142.5 368.2C143.2 371.8 143.8 375.7 144.4 379.5C145.1 383.3 145.7 386.9 146.3 390.8C146.9 394.7 147.5 399.2 148.2 403.0C148.8 406.8 149.4 408.9 150.2 413.8C150.9 418.8 152.0 427.0 152.7 432.7C153.4 438.3 154.0 443.2 154.6 447.8C155.2 452.4 155.8 455.4 156.2 460.3C156.6 465.3 156.5 472.6 157.0 477.6C157.4 482.5 158.1 485.5 158.9 490.1C159.6 494.7 160.5 500.6 161.4 505.2C162.2 509.8 163.0 514.0 163.9 517.8C164.7 521.5 165.7 525.5 166.4 527.8C167.1 530.1 167.4 530.5 168.3 531.6C169.1 532.6 170.3 533.5 171.4 534.1C172.6 534.7 174.1 535.4 175.2 535.4C176.2 535.4 176.6 534.9 177.7 534.1C178.7 533.3 180.2 531.7 181.5 530.3C182.7 529.0 183.8 527.6 185.2 525.9C186.7 524.3 188.6 522.2 190.2 520.3C191.9 518.4 193.6 516.4 195.3 514.6C196.9 512.8 198.6 511.2 200.3 509.6C202.0 508.0 203.6 506.6 205.3 505.2C207.0 503.8 208.7 502.6 210.3 501.4C212.0 500.2 213.6 499.1 215.4 497.9C217.1 496.8 218.9 495.7 221.0 494.5C223.1 493.4 225.3 492.3 227.7 491.0C230.0 489.6 232.7 487.9 235.2 486.6C237.7 485.2 240.4 483.9 242.7 482.8C245.0 481.6 247.3 480.5 249.0 479.6C250.7 478.8 251.7 478.5 252.8 477.8C253.8 477.0 254.7 476.5 255.3 475.3C255.9 474.0 256.1 472.3 256.5 470.2C257.0 468.1 257.4 465.4 257.8 462.7C258.2 460.0 258.6 456.8 259.1 453.9C259.5 451.0 259.9 447.6 260.3 445.1C260.7 442.6 261.1 439.9 261.3 438.8" fill="none" stroke="#1c1c1c" stroke-width="1.2" stroke-linejoin="round"/>
<path d="M37.5 438.8C37.7 436.8 38.1 430.9 38.5 426.5C39.0 422.2 39.6 416.4 40.0 412.7C40.5 409.0 40.9 406.3 41.3 404.5C41.7 402.8 41.7 402.7 42.6 402.0C43.4 401.3 44.9 400.9 46.3 400.4C47.8 399.9 49.5 399.7 51.3 399.1C53.2 398.6 55.5 397.7 57.6 397.0C59.7 396.3 61.8 395.6 63.9 394.9C66.0 394.1 68.1 393.3 70.2 392.4C72.3 391.5 74.4 390.5 76.5 389.5C78.5 388.5 80.7 387.6 82.7 386.3C84.7 385.1 86.5 383.5 88.6 382.0C90.6 380.6 92.7 379.3 94.8 377.6C96.9 375.9 99.0 373.9 101.1 372.0C103.2 370.1 105.3 368.2 107.4 366.3C109.5 364.4 111.8 362.1 113.7 360.7C115.5 359.2 117.1 358.3 118.7 357.5C120.3 356.8 121.6 356.3 123.1 356.3C124.5 356.3 126.1 356.8 127.5 357.5C128.8 358.3 130.1 359.4 131.2 360.7C132.4 361.9 133.5 363.4 134.4 365.1C135.2 366.7 135.6 368.5 136.3 370.7C136.9 372.9 137.5 375.7 138.1 378.3C138.8 380.8 139.4 383.3 140.0 385.8C140.7 388.3 141.2 390.5 141.9 393.3C142.6 396.2 143.6 398.1 144.4 403.0C145.3 407.9 146.2 416.9 147.0 422.6C147.9 428.4 148.7 432.9 149.5 437.7C150.4 442.5 151.2 447.1 152.1 451.5C152.9 455.9 153.6 459.8 154.6 464.1C155.5 468.4 156.7 473.2 157.6 477.6C158.5 481.9 159.1 486.1 159.9 490.1C160.6 494.1 161.2 497.9 162.0 501.4C162.8 505.0 163.6 508.8 164.5 511.5C165.4 514.2 166.5 516.1 167.6 517.8C168.8 519.4 170.2 520.7 171.4 521.5C172.7 522.4 173.9 522.7 175.2 522.8C176.4 522.8 177.5 522.4 178.9 521.8C180.4 521.2 182.3 520.1 184.0 519.0C185.6 517.9 187.3 516.5 189.0 515.3C190.7 514.0 192.3 512.7 194.0 511.5C195.7 510.2 197.4 509.0 199.0 507.7C200.7 506.5 202.4 505.1 204.1 503.9C205.7 502.8 207.4 501.9 209.1 500.8C210.7 499.8 212.1 499.0 214.1 497.7C216.1 496.3 218.9 494.2 221.0 492.6C223.1 491.1 224.3 489.7 226.4 488.4C228.6 487.2 231.4 486.2 233.9 485.1C236.5 483.9 239.2 482.7 241.5 481.8C243.8 480.8 246.0 480.0 247.8 479.3C249.5 478.6 250.9 478.2 252.1 477.5C253.4 476.8 254.3 476.5 255.0 475.3C255.7 474.0 256.0 472.3 256.4 470.2C256.9 468.1 257.3 465.4 257.7 462.7C258.1 460.0 258.5 456.8 258.9 453.9C259.3 451.0 259.8 447.6 260.2 445.1C260.6 442.6 261.0 439.9 261.2 438.8" fill="none" stroke="#1c1c1c" stroke-width="1.5" stroke-dasharray="1.5 1.6" stroke-linejoin="round"/>
<path d="M46.3 438.8C46.6 437.4 47.5 433.6 48.2 430.3C48.9 427.0 49.9 422.6 50.7 419.0C51.6 415.4 52.4 411.6 53.2 408.9C54.1 406.3 54.8 404.8 55.7 403.3C56.7 401.8 57.5 401.0 58.9 400.2C60.2 399.3 62.2 398.8 63.9 398.3C65.6 397.7 67.2 397.5 68.9 397.0C70.6 396.5 72.3 395.9 73.9 395.1C75.6 394.4 77.3 393.5 79.0 392.6C80.6 391.8 82.8 390.6 84.0 390.1C85.2 389.6 84.7 390.3 86.0 389.6C87.4 388.8 90.2 387.0 92.3 385.8C94.4 384.5 96.5 383.4 98.6 382.0C100.7 380.7 102.8 379.0 104.9 377.6C107.0 376.3 109.3 374.8 111.2 373.9C113.0 372.9 114.7 372.1 116.2 371.7C117.6 371.3 118.5 371.3 119.9 371.3C121.4 371.4 123.6 371.6 125.0 372.0C126.3 372.4 127.1 372.8 128.1 373.9C129.1 374.9 130.3 376.7 131.2 378.3C132.2 379.8 132.9 381.4 133.8 383.3C134.6 385.2 135.4 387.4 136.3 389.6C137.1 391.8 137.9 394.2 138.8 396.5C139.6 398.7 140.5 400.1 141.3 403.0C142.0 405.9 142.5 409.9 143.3 413.8C144.0 417.7 144.9 422.2 145.8 426.4C146.6 430.6 147.5 435.0 148.3 439.0C149.1 442.9 149.9 446.3 150.8 450.3C151.7 454.3 152.6 458.9 153.9 462.8C155.3 466.8 157.7 470.7 158.9 473.8C160.0 476.9 160.1 478.8 160.7 481.3C161.4 483.8 161.9 486.6 162.6 488.9C163.4 491.2 164.2 493.2 165.1 495.2C166.1 497.1 167.1 499.2 168.3 500.8C169.4 502.4 170.7 503.5 172.0 504.6C173.4 505.6 175.0 506.8 176.4 507.1C177.9 507.4 179.4 506.8 180.8 506.5C182.3 506.1 183.7 505.6 185.2 504.9C186.8 504.3 188.6 503.5 190.2 502.7C191.9 501.9 193.6 501.1 195.3 500.2C196.9 499.2 198.6 498.1 200.3 497.0C202.0 496.0 203.6 494.9 205.3 493.9C207.0 492.8 208.7 491.8 210.3 490.8C212.0 489.7 213.6 488.7 215.4 487.6C217.1 486.6 219.2 485.2 221.0 484.5C222.8 483.8 224.7 483.9 226.4 483.4C228.1 482.9 229.8 482.0 231.4 481.3C233.1 480.6 234.8 479.9 236.5 479.3C238.1 478.6 240.1 478.2 241.5 477.5C242.8 476.8 243.8 476.3 244.6 475.3C245.4 474.2 245.8 473.2 246.2 471.5C246.7 469.8 247.0 467.7 247.5 465.2C248.0 462.7 248.5 459.3 249.0 456.4C249.5 453.5 250.1 450.2 250.5 447.6C250.9 445.0 251.4 441.9 251.5 440.7" fill="none" stroke="#1c1c1c" stroke-width="1.25" stroke-dasharray="6.8 2.7 1.5 2.7" stroke-linejoin="round"/>
<path d="M57.4 437.8C57.7 436.4 58.8 432.2 59.5 429.0C60.2 425.9 60.9 422.1 61.4 419.0C61.9 415.9 62.2 412.6 62.6 410.2C63.1 407.8 63.3 406.0 63.9 404.5C64.5 403.1 65.4 402.3 66.4 401.4C67.5 400.5 68.7 400.1 70.2 399.1C71.6 398.2 73.5 396.8 75.2 395.8C76.9 394.7 78.5 393.6 80.2 392.6C81.9 391.6 83.2 391.0 85.2 389.8C87.3 388.7 90.1 387.2 92.3 385.9C94.5 384.6 96.5 383.5 98.6 382.1C100.7 380.8 102.8 379.1 104.9 377.7C107.0 376.4 109.3 375.0 111.2 374.0C113.0 373.0 114.7 372.3 116.2 371.8C117.6 371.4 118.5 371.4 119.9 371.5C121.4 371.5 123.6 371.7 125.0 372.1C126.3 372.5 127.1 372.9 128.1 374.0C129.1 375.0 130.3 376.8 131.2 378.4C132.2 379.9 132.9 381.5 133.8 383.4C134.6 385.3 135.4 387.5 136.3 389.7C137.1 391.9 137.9 394.4 138.8 396.6C139.6 398.8 140.5 400.1 141.3 403.0C142.0 405.9 142.5 409.9 143.3 413.8C144.0 417.7 144.9 422.2 145.8 426.4C146.6 430.6 147.5 435.0 148.3 439.0C149.1 442.9 149.9 446.3 150.8 450.3C151.7 454.3 152.6 458.9 153.9 462.8C155.3 466.8 157.7 470.7 158.9 473.8C160.0 476.9 160.1 478.8 160.7 481.3C161.4 483.8 161.9 486.6 162.6 488.9C163.4 491.2 164.2 493.2 165.1 495.2C166.1 497.1 167.1 499.2 168.3 500.8C169.4 502.4 170.7 503.5 172.0 504.6C173.4 505.6 175.0 506.8 176.4 507.1C177.9 507.4 179.4 506.8 180.8 506.5C182.3 506.1 183.7 505.6 185.2 504.9C186.8 504.3 188.6 503.5 190.2 502.7C191.9 501.9 193.6 501.1 195.3 500.2C196.9 499.2 198.6 498.1 200.3 497.0C202.0 496.0 203.6 494.9 205.3 493.9C207.0 492.8 208.7 491.8 210.3 490.8C212.0 489.7 213.9 488.3 215.4 487.4C216.8 486.4 217.2 486.0 218.9 485.1C220.5 484.1 223.3 482.5 225.2 481.5C227.0 480.5 228.7 480.0 230.2 479.0C231.6 478.1 233.1 477.1 233.9 475.9C234.8 474.6 234.9 473.3 235.4 471.5C236.0 469.7 236.5 467.7 237.1 465.2C237.6 462.7 238.2 459.1 238.7 456.4C239.2 453.7 239.8 451.1 240.2 448.9C240.6 446.7 241.1 444.2 241.2 443.2" fill="none" stroke="#1c1c1c" stroke-width="1.25" stroke-dasharray="13.2 4 1.5 3.5 1.5 4.3" stroke-linejoin="round"/>
<text x="148.0" y="608.0" font-size="19.8" font-family="'Liberation Serif', serif" text-anchor="middle" fill="#111">(C1)</text></g>
<g id="C2"><path d="M439.90 332.00V541.10H668.80" fill="none" stroke="#1c1c1c" stroke-width="1.35"/>
<path d="M440.00 541.10v-4.6M497.20 541.10v-4.6M554.40 541.10v-4.6M611.60 541.10v-4.6M668.80 541.10v-4.6M439.90 529.00h4.6M439.90 507.62h4.6M439.90 486.25h4.6M439.90 464.88h4.6M439.90 443.50h4.6M439.90 422.12h4.6M439.90 400.75h4.6M439.90 379.38h4.6M439.90 358.00h4.6M439.90 336.62h4.6" fill="none" stroke="#1c1c1c" stroke-width="1.15"/>
<path d="M451.44 541.10v-2.3M462.88 541.10v-2.3M474.32 541.10v-2.3M485.76 541.10v-2.3M508.64 541.10v-2.3M520.08 541.10v-2.3M531.52 541.10v-2.3M542.96 541.10v-2.3M565.84 541.10v-2.3M577.28 541.10v-2.3M588.72 541.10v-2.3M600.16 541.10v-2.3M623.04 541.10v-2.3M634.48 541.10v-2.3M645.92 541.10v-2.3M657.36 541.10v-2.3M439.90 537.55h2.3M439.90 533.27h2.3M439.90 524.73h2.3M439.90 520.45h2.3M439.90 516.17h2.3M439.90 511.90h2.3M439.90 503.35h2.3M439.90 499.07h2.3M439.90 494.80h2.3M439.90 490.52h2.3M439.90 481.98h2.3M439.90 477.70h2.3M439.90 473.43h2.3M439.90 469.15h2.3M439.90 460.60h2.3M439.90 456.32h2.3M439.90 452.05h2.3M439.90 447.77h2.3M439.90 439.23h2.3M439.90 434.95h2.3M439.90 430.68h2.3M439.90 426.40h2.3M439.90 417.85h2.3M439.90 413.57h2.3M439.90 409.30h2.3M439.90 405.02h2.3M439.90 396.48h2.3M439.90 392.20h2.3M439.90 387.93h2.3M439.90 383.65h2.3M439.90 375.10h2.3M439.90 370.82h2.3M439.90 366.55h2.3M439.90 362.27h2.3M439.90 353.73h2.3M439.90 349.45h2.3M439.90 345.18h2.3M439.90 340.90h2.3" fill="none" stroke="#1c1c1c" stroke-width="0.85"/>
<text transform="translate(440.0 549.5) scale(0.92 1)" font-size="8.77" text-anchor="middle" fill="#222" stroke="#222" stroke-width="0.22">-1</text>
<text transform="translate(497.2 549.5) scale(0.92 1)" font-size="8.77" text-anchor="middle" fill="#222" stroke="#222" stroke-width="0.22">-0.5</text>
<text transform="translate(554.4 549.5) scale(0.92 1)" font-size="8.77" text-anchor="middle" fill="#222" stroke="#222" stroke-width="0.22">0</text>
<text transform="translate(611.6 549.5) scale(0.92 1)" font-size="8.77" text-anchor="middle" fill="#222" stroke="#222" stroke-width="0.22">0.5</text>
<text transform="translate(668.8 549.5) scale(0.92 1)" font-size="8.77" text-anchor="middle" fill="#222" stroke="#222" stroke-width="0.22">1</text>
<text transform="translate(436.3 339.6) scale(0.92 1)" font-size="8.77" text-anchor="end" fill="#222" stroke="#222" stroke-width="0.22">2.5</text>
<text transform="translate(436.3 361.0) scale(0.92 1)" font-size="8.77" text-anchor="end" fill="#222" stroke="#222" stroke-width="0.22">2</text>
<text transform="translate(436.3 382.3) scale(0.92 1)" font-size="8.77" text-anchor="end" fill="#222" stroke="#222" stroke-width="0.22">1.5</text>
<text transform="translate(436.3 403.7) scale(0.92 1)" font-size="8.77" text-anchor="end" fill="#222" stroke="#222" stroke-width="0.22">1</text>
<text transform="translate(436.3 425.1) scale(0.92 1)" font-size="8.77" text-anchor="end" fill="#222" stroke="#222" stroke-width="0.22">0.5</text>
<text transform="translate(436.3 446.5) scale(0.92 1)" font-size="8.77" text-anchor="end" fill="#222" stroke="#222" stroke-width="0.22">0</text>
<text transform="translate(436.3 467.8) scale(0.92 1)" font-size="8.77" text-anchor="end" fill="#222" stroke="#222" stroke-width="0.22">-0.5</text>
<text transform="translate(436.3 489.2) scale(0.92 1)" font-size="8.77" text-anchor="end" fill="#222" stroke="#222" stroke-width="0.22">-1</text>
<text transform="translate(436.3 510.6) scale(0.92 1)" font-size="8.77" text-anchor="end" fill="#222" stroke="#222" stroke-width="0.22">-1.5</text>
<text transform="translate(436.3 532.0) scale(0.92 1)" font-size="8.77" text-anchor="end" fill="#222" stroke="#222" stroke-width="0.22">-2</text>
<text transform="translate(554.0 564.0) scale(0.965 1)" font-size="10.05" font-weight="bold" text-anchor="middle" fill="#151515" stroke="#151515" stroke-width="0.18">Radial Position / Cyclone Radius</text>
<text transform="translate(415.1 436.9) rotate(-90) scale(0.965 1)" font-size="10.07" font-weight="bold" text-anchor="middle" fill="#151515" stroke="#151515" stroke-width="0.18">Tangential Velocity / Inlet Velocity</text>
<line x1="631.8" y1="366.4" x2="668.7" y2="366.4" stroke="#1c1c1c" stroke-width="1.2"/>
<text transform="translate(675.0 369.3) scale(0.88 1)" font-size="8.7" font-weight="bold" fill="#151515" stroke="#151515" stroke-width="0.18">S1</text>
<line x1="631.8" y1="375.9" x2="668.7" y2="375.9" stroke="#1c1c1c" stroke-width="1.5" stroke-dasharray="1.5 1.6"/>
<text transform="translate(675.0 378.8) scale(0.88 1)" font-size="8.7" font-weight="bold" fill="#151515" stroke="#151515" stroke-width="0.18">S2</text>
<line x1="631.8" y1="385.9" x2="668.7" y2="385.9" stroke="#1c1c1c" stroke-width="1.25" stroke-dasharray="6.8 2.7 1.5 2.7"/>
<text transform="translate(675.0 388.8) scale(0.88 1)" font-size="8.7" font-weight="bold" fill="#151515" stroke="#151515" stroke-width="0.18">S3</text>
<line x1="631.8" y1="395.5" x2="668.7" y2="395.5" stroke="#1c1c1c" stroke-width="1.25" stroke-dasharray="13.2 4 1.5 3.5 1.5 4.3"/>
<text transform="translate(675.0 398.4) scale(0.88 1)" font-size="8.7" font-weight="bold" fill="#151515" stroke="#151515" stroke-width="0.18">S4</text>
<path d="M439.8 443.0C439.9 441.2 440.2 436.2 440.5 432.3C440.9 428.4 441.3 423.5 441.8 419.7C442.3 416.0 442.6 412.1 443.3 409.7C444.0 407.3 444.6 406.7 445.8 405.3C447.1 403.9 448.9 402.7 450.8 401.5C452.7 400.4 455.2 399.3 457.1 398.4C459.0 397.4 460.2 397.0 462.1 395.9C464.0 394.7 466.3 392.8 468.4 391.5C470.5 390.1 472.4 388.9 474.7 387.7C477.0 386.6 479.9 385.7 482.2 384.6C484.5 383.4 486.8 381.9 488.5 380.8C490.2 379.7 490.8 379.4 492.6 378.1C494.3 376.9 496.7 375.2 498.8 373.1C500.9 371.0 503.0 368.3 505.1 365.6C507.2 362.9 509.3 359.7 511.4 356.8C513.5 353.8 515.6 350.7 517.7 348.0C519.8 345.3 522.1 342.8 523.9 340.4C525.8 338.1 527.6 335.6 529.0 334.2C530.3 332.7 531.1 332.2 532.1 331.9C533.1 331.6 534.3 331.9 535.2 332.5C536.2 333.1 536.9 334.1 537.8 335.4C538.6 336.7 539.4 338.5 540.3 340.4C541.1 342.4 541.9 344.7 542.8 347.4C543.6 350.0 544.6 353.2 545.3 356.2C546.0 359.1 546.6 361.8 547.2 364.9C547.8 368.1 548.3 371.6 548.8 375.0C549.3 378.3 549.6 381.5 550.1 385.0C550.5 388.6 551.1 392.6 551.6 396.4C552.0 400.1 552.2 403.6 552.7 407.6C553.1 411.5 553.8 415.9 554.3 420.1C554.8 424.3 555.3 428.5 555.8 432.7C556.3 436.9 556.8 441.1 557.3 445.3C557.8 449.4 558.7 454.0 558.9 457.8C559.2 461.6 558.5 464.2 558.8 468.0C559.1 471.8 560.0 476.0 560.7 480.6C561.4 485.2 562.4 490.8 563.2 495.6C564.1 500.5 564.9 505.1 565.7 509.5C566.6 513.9 567.3 518.0 568.2 522.0C569.2 526.0 570.3 530.3 571.4 533.3C572.4 536.4 573.6 538.9 574.5 540.2C575.4 541.5 575.9 541.1 576.7 541.1C577.4 541.2 577.9 541.3 578.9 540.6C579.9 539.9 581.2 538.5 582.7 537.1C584.2 535.7 586.0 533.9 587.7 532.1C589.4 530.3 591.1 528.3 592.7 526.4C594.4 524.5 596.1 522.5 597.8 520.8C599.4 519.0 601.1 517.4 602.8 515.7C604.4 514.1 606.1 512.4 607.8 510.7C609.5 509.0 611.1 507.2 612.8 505.7C614.5 504.2 615.6 503.3 617.8 501.9C620.0 500.6 623.9 498.7 626.0 497.5C628.1 496.3 628.6 495.8 630.6 494.7C632.7 493.6 635.7 492.2 638.2 490.9C640.7 489.7 643.2 488.4 645.7 487.2C648.2 485.9 650.9 484.5 653.2 483.4C655.5 482.2 658.0 481.1 659.5 480.3C661.0 479.4 661.6 479.6 662.3 478.4C663.0 477.1 663.1 474.7 663.5 472.7C664.0 470.7 664.7 468.7 665.2 466.4C665.7 464.1 666.0 461.6 666.4 458.9C666.8 456.2 667.1 452.8 667.4 450.1C667.8 447.4 668.4 443.8 668.6 442.6" fill="none" stroke="#1c1c1c" stroke-width="1.2" stroke-linejoin="round"/>
<path d="M439.8 443.0C440.0 441.0 440.6 435.1 441.0 431.0C441.5 427.0 442.2 422.0 442.7 418.5C443.2 414.9 443.4 411.8 443.9 409.7C444.5 407.6 444.9 406.8 445.8 405.9C446.8 405.0 447.9 404.8 449.6 404.4C451.3 404.0 453.8 403.7 455.9 403.4C457.9 403.1 460.0 403.2 462.1 402.8C464.2 402.4 466.3 401.8 468.4 401.1C470.5 400.5 472.6 399.9 474.7 399.0C476.8 398.1 478.9 397.0 481.0 395.9C483.1 394.7 485.3 393.8 487.2 392.1C489.2 390.4 490.6 387.6 492.6 385.7C494.5 383.8 496.7 382.4 498.8 380.6C500.9 378.9 503.0 376.9 505.1 375.0C507.2 373.1 509.3 371.1 511.4 369.3C513.5 367.6 515.6 365.7 517.7 364.3C519.8 363.0 522.1 361.9 523.9 361.2C525.8 360.5 527.5 360.2 529.0 360.2C530.4 360.1 531.6 360.3 532.7 360.9C533.9 361.5 534.9 362.5 535.9 363.7C536.8 364.9 537.5 366.2 538.4 368.1C539.2 370.0 540.2 372.6 540.9 375.0C541.6 377.4 542.1 380.0 542.8 382.5C543.4 385.0 544.0 387.6 544.7 390.1C545.3 392.6 545.9 394.7 546.5 397.6C547.1 400.5 547.6 403.8 548.3 407.6C548.9 411.3 549.8 415.9 550.5 420.1C551.3 424.3 552.0 428.5 552.7 432.7C553.3 436.9 553.9 441.1 554.5 445.3C555.2 449.4 555.6 454.0 556.4 457.8C557.2 461.6 558.6 464.2 559.5 468.0C560.3 471.8 560.7 476.0 561.3 480.6C562.0 485.2 562.9 491.2 563.6 495.6C564.3 500.0 565.0 503.6 565.7 506.9C566.5 510.3 567.3 513.2 568.2 515.7C569.2 518.3 570.2 520.4 571.4 522.0C572.5 523.7 573.9 524.8 575.2 525.5C576.4 526.3 577.6 526.5 578.9 526.4C580.3 526.4 581.8 525.9 583.3 525.2C584.8 524.4 586.1 523.2 587.7 522.0C589.3 520.9 591.1 519.5 592.7 518.3C594.4 517.0 596.1 515.7 597.8 514.5C599.4 513.2 601.1 512.0 602.8 510.7C604.4 509.5 606.1 508.2 607.8 506.9C609.5 505.7 611.1 504.3 612.8 503.2C614.5 502.0 615.6 501.2 617.8 500.0C620.0 498.9 623.9 497.2 626.0 496.3C628.1 495.3 628.6 495.2 630.6 494.3C632.7 493.4 635.7 492.0 638.2 490.8C640.7 489.6 643.2 488.3 645.7 487.0C648.2 485.8 650.9 484.4 653.2 483.3C655.5 482.1 658.0 481.0 659.5 480.1C661.0 479.3 661.5 479.5 662.2 478.2C662.8 477.0 662.9 474.7 663.4 472.7C663.9 470.7 664.6 468.7 665.0 466.4C665.5 464.1 665.9 461.6 666.3 458.9C666.7 456.2 666.9 452.8 667.3 450.1C667.7 447.4 668.2 443.8 668.4 442.6" fill="none" stroke="#1c1c1c" stroke-width="1.5" stroke-dasharray="1.5 1.6" stroke-linejoin="round"/>
<path d="M449.3 442.4C449.7 441.1 450.6 438.0 451.5 434.8C452.3 431.7 453.6 427.1 454.6 423.5C455.6 419.9 456.8 416.3 457.7 413.5C458.7 410.6 459.4 408.2 460.2 406.5C461.1 404.9 461.6 404.1 462.8 403.4C463.9 402.7 465.4 402.7 467.2 402.4C468.9 402.2 471.7 402.1 473.4 401.9C475.2 401.7 476.4 401.6 477.8 401.1C479.3 400.7 480.7 399.8 482.2 399.0C483.8 398.2 485.5 397.7 487.2 396.5C489.0 395.3 490.6 393.2 492.6 392.0C494.5 390.7 496.7 389.9 498.8 388.8C500.9 387.8 503.0 386.8 505.1 385.7C507.2 384.5 509.3 383.3 511.4 381.9C513.5 380.5 515.8 378.7 517.7 377.5C519.5 376.4 521.2 375.5 522.7 375.0C524.2 374.5 525.2 374.6 526.5 374.7C527.7 374.9 529.0 375.3 530.2 376.0C531.5 376.7 532.8 377.6 534.0 378.8C535.1 380.0 536.1 381.5 537.1 383.2C538.2 384.8 539.3 386.8 540.3 388.8C541.2 390.8 541.8 392.4 542.8 395.1C543.8 397.8 545.3 401.5 546.4 405.1C547.5 408.6 548.5 412.6 549.5 416.4C550.6 420.1 551.6 423.7 552.7 427.7C553.7 431.6 554.8 436.0 555.8 440.2C556.8 444.4 558.0 449.0 558.9 452.8C559.9 456.6 560.9 460.3 561.5 462.8C562.0 465.4 561.5 465.5 562.0 468.0C562.5 470.5 563.5 474.7 564.5 478.1C565.4 481.4 566.5 484.8 567.6 488.1C568.8 491.5 570.1 495.4 571.4 498.2C572.6 500.9 573.8 502.7 575.2 504.4C576.5 506.1 578.1 507.5 579.5 508.5C581.0 509.4 582.5 509.9 583.9 510.1C585.4 510.3 586.9 509.9 588.3 509.5C589.8 509.0 591.2 508.3 592.7 507.6C594.3 506.8 596.1 505.9 597.8 505.1C599.4 504.2 601.1 503.5 602.8 502.5C604.4 501.6 606.1 500.3 607.8 499.4C609.5 498.5 611.1 497.7 612.8 496.9C614.5 496.1 615.6 495.4 617.8 494.4C620.0 493.3 623.4 492.2 626.0 490.6C628.6 489.1 631.1 486.2 633.2 485.0C635.2 483.8 636.5 483.9 638.2 483.4C639.8 482.8 641.5 482.4 643.2 481.8C644.9 481.1 646.8 480.3 648.2 479.6C649.7 478.9 651.0 478.5 652.0 477.5C652.9 476.4 653.4 475.0 653.9 473.3C654.3 471.7 654.4 469.9 654.7 467.7C655.1 465.5 655.6 462.7 656.0 460.2C656.4 457.6 656.8 455.1 657.3 452.6C657.7 450.1 658.3 446.3 658.5 445.1" fill="none" stroke="#1c1c1c" stroke-width="1.25" stroke-dasharray="6.8 2.7 1.5 2.7" stroke-linejoin="round"/>
<path d="M459.9 442.4C460.2 440.9 461.3 436.7 462.1 433.6C462.9 430.4 463.8 426.6 464.6 423.5C465.4 420.4 466.2 417.3 466.9 414.7C467.6 412.1 468.0 409.6 468.7 407.8C469.3 406.0 470.0 404.9 470.9 404.0C471.8 403.1 472.9 402.9 474.1 402.4C475.2 401.9 476.5 401.8 477.8 401.3C479.2 400.7 480.7 399.9 482.2 399.1C483.8 398.4 485.5 397.8 487.2 396.6C489.0 395.4 490.6 393.4 492.6 392.1C494.5 390.8 496.7 390.0 498.8 388.9C500.9 387.9 503.0 387.0 505.1 385.8C507.2 384.6 509.3 383.4 511.4 382.0C513.5 380.7 515.8 378.8 517.7 377.6C519.5 376.5 521.2 375.6 522.7 375.1C524.2 374.7 525.2 374.7 526.5 374.9C527.7 375.0 529.0 375.5 530.2 376.1C531.5 376.8 532.8 377.7 534.0 378.9C535.1 380.1 536.1 381.6 537.1 383.3C538.2 385.0 539.3 387.0 540.3 388.9C541.2 390.9 541.8 392.5 542.8 395.2C543.8 397.9 545.3 401.5 546.4 405.1C547.5 408.6 548.5 412.6 549.5 416.4C550.6 420.1 551.6 423.7 552.7 427.7C553.7 431.6 554.8 436.0 555.8 440.2C556.8 444.4 558.0 449.0 558.9 452.8C559.9 456.6 560.9 460.3 561.5 462.8C562.0 465.4 561.5 465.5 562.0 468.0C562.5 470.5 563.5 474.7 564.5 478.1C565.4 481.4 566.5 484.8 567.6 488.1C568.8 491.5 570.1 495.4 571.4 498.2C572.6 500.9 573.8 502.7 575.2 504.4C576.5 506.1 578.1 507.5 579.5 508.5C581.0 509.4 582.5 509.9 583.9 510.1C585.4 510.3 586.9 509.9 588.3 509.5C589.8 509.0 591.2 508.3 592.7 507.6C594.3 506.8 596.1 505.9 597.8 505.1C599.4 504.2 601.1 503.5 602.8 502.5C604.4 501.6 606.1 500.3 607.8 499.4C609.5 498.5 611.1 497.7 612.8 496.9C614.5 496.1 615.6 495.5 617.8 494.4C620.0 493.3 623.4 492.1 626.0 490.4C628.6 488.6 631.1 485.5 633.2 484.0C635.2 482.5 636.8 482.4 638.2 481.5C639.5 480.6 640.5 479.8 641.3 478.4C642.1 476.9 642.4 474.9 642.9 472.7C643.5 470.5 644.0 467.7 644.5 465.2C644.9 462.7 645.3 460.2 645.7 457.6C646.1 455.1 646.6 452.5 647.0 450.1C647.3 447.7 647.7 444.3 647.8 443.2" fill="none" stroke="#1c1c1c" stroke-width="1.25" stroke-dasharray="13.2 4 1.5 3.5 1.5 4.3" stroke-linejoin="round"/>
<text x="552.5" y="608.1" font-size="19.8" font-family="'Liberation Serif', serif" text-anchor="middle" fill="#111">(C2)</text></g>
<g id="C3"><path d="M38.00 663.50V869.00H263.60" fill="none" stroke="#1c1c1c" stroke-width="1.35"/>
<path d="M38.00 869.00v-4.6M94.40 869.00v-4.6M150.80 869.00v-4.6M207.20 869.00v-4.6M263.60 869.00v-4.6M38.00 854.80h4.6M38.00 833.67h4.6M38.00 812.55h4.6M38.00 791.42h4.6M38.00 770.30h4.6M38.00 749.17h4.6M38.00 728.05h4.6M38.00 706.92h4.6M38.00 685.80h4.6M38.00 664.67h4.6" fill="none" stroke="#1c1c1c" stroke-width="1.15"/>
<path d="M49.28 869.00v-2.3M60.56 869.00v-2.3M71.84 869.00v-2.3M83.12 869.00v-2.3M105.68 869.00v-2.3M116.96 869.00v-2.3M128.24 869.00v-2.3M139.52 869.00v-2.3M162.08 869.00v-2.3M173.36 869.00v-2.3M184.64 869.00v-2.3M195.92 869.00v-2.3M218.48 869.00v-2.3M229.76 869.00v-2.3M241.04 869.00v-2.3M252.32 869.00v-2.3M38.00 867.47h2.3M38.00 863.25h2.3M38.00 859.02h2.3M38.00 850.57h2.3M38.00 846.35h2.3M38.00 842.12h2.3M38.00 837.90h2.3M38.00 829.45h2.3M38.00 825.22h2.3M38.00 821.00h2.3M38.00 816.77h2.3M38.00 808.32h2.3M38.00 804.10h2.3M38.00 799.88h2.3M38.00 795.65h2.3M38.00 787.20h2.3M38.00 782.97h2.3M38.00 778.75h2.3M38.00 774.52h2.3M38.00 766.07h2.3M38.00 761.85h2.3M38.00 757.62h2.3M38.00 753.40h2.3M38.00 744.95h2.3M38.00 740.72h2.3M38.00 736.50h2.3M38.00 732.27h2.3M38.00 723.82h2.3M38.00 719.60h2.3M38.00 715.38h2.3M38.00 711.15h2.3M38.00 702.70h2.3M38.00 698.47h2.3M38.00 694.25h2.3M38.00 690.02h2.3M38.00 681.57h2.3M38.00 677.35h2.3M38.00 673.12h2.3M38.00 668.90h2.3" fill="none" stroke="#1c1c1c" stroke-width="0.85"/>
<text transform="translate(38.0 877.1) scale(0.92 1)" font-size="8.56" text-anchor="middle" fill="#222" stroke="#222" stroke-width="0.22">-1</text>
<text transform="translate(94.4 877.1) scale(0.92 1)" font-size="8.56" text-anchor="middle" fill="#222" stroke="#222" stroke-width="0.22">-0.5</text>
<text transform="translate(150.8 877.1) scale(0.92 1)" font-size="8.56" text-anchor="middle" fill="#222" stroke="#222" stroke-width="0.22">0</text>
<text transform="translate(207.2 877.1) scale(0.92 1)" font-size="8.56" text-anchor="middle" fill="#222" stroke="#222" stroke-width="0.22">0.5</text>
<text transform="translate(263.6 877.1) scale(0.92 1)" font-size="8.56" text-anchor="middle" fill="#222" stroke="#222" stroke-width="0.22">1</text>
<text transform="translate(34.4 668.2) scale(0.92 1)" font-size="8.56" text-anchor="end" fill="#222" stroke="#222" stroke-width="0.22">2.5</text>
<text transform="translate(34.4 689.3) scale(0.92 1)" font-size="8.56" text-anchor="end" fill="#222" stroke="#222" stroke-width="0.22">2</text>
<text transform="translate(34.4 710.4) scale(0.92 1)" font-size="8.56" text-anchor="end" fill="#222" stroke="#222" stroke-width="0.22">1.5</text>
<text transform="translate(34.4 731.5) scale(0.92 1)" font-size="8.56" text-anchor="end" fill="#222" stroke="#222" stroke-width="0.22">1</text>
<text transform="translate(34.4 752.7) scale(0.92 1)" font-size="8.56" text-anchor="end" fill="#222" stroke="#222" stroke-width="0.22">0.5</text>
<text transform="translate(34.4 773.8) scale(0.92 1)" font-size="8.56" text-anchor="end" fill="#222" stroke="#222" stroke-width="0.22">0</text>
<text transform="translate(34.4 794.9) scale(0.92 1)" font-size="8.56" text-anchor="end" fill="#222" stroke="#222" stroke-width="0.22">-0.5</text>
<text transform="translate(34.4 816.0) scale(0.92 1)" font-size="8.56" text-anchor="end" fill="#222" stroke="#222" stroke-width="0.22">-1</text>
<text transform="translate(34.4 837.2) scale(0.92 1)" font-size="8.56" text-anchor="end" fill="#222" stroke="#222" stroke-width="0.22">-1.5</text>
<text transform="translate(34.4 858.3) scale(0.92 1)" font-size="8.56" text-anchor="end" fill="#222" stroke="#222" stroke-width="0.22">-2</text>
<text transform="translate(150.6 892.0) scale(0.965 1)" font-size="9.91" font-weight="bold" text-anchor="middle" fill="#151515" stroke="#151515" stroke-width="0.18">Radial Position / Cyclone Radius</text>
<text transform="translate(14.1 766.7) rotate(-90) scale(0.965 1)" font-size="9.91" font-weight="bold" text-anchor="middle" fill="#151515" stroke="#151515" stroke-width="0.18">Tangential Velocity / Inlet Velocity</text>
<line x1="227.2" y1="697.3" x2="263.1" y2="697.3" stroke="#1c1c1c" stroke-width="1.2"/>
<text transform="translate(269.5 700.2) scale(0.88 1)" font-size="8.7" font-weight="bold" fill="#151515" stroke="#151515" stroke-width="0.18">S1</text>
<line x1="227.2" y1="706.7" x2="263.1" y2="706.7" stroke="#1c1c1c" stroke-width="1.5" stroke-dasharray="1.5 1.6"/>
<text transform="translate(269.5 709.6) scale(0.88 1)" font-size="8.7" font-weight="bold" fill="#151515" stroke="#151515" stroke-width="0.18">S2</text>
<line x1="227.2" y1="716.5" x2="263.1" y2="716.5" stroke="#1c1c1c" stroke-width="1.25" stroke-dasharray="6.8 2.7 1.5 2.7"/>
<text transform="translate(269.5 719.4) scale(0.88 1)" font-size="8.7" font-weight="bold" fill="#151515" stroke="#151515" stroke-width="0.18">S3</text>
<line x1="227.2" y1="726.0" x2="263.1" y2="726.0" stroke="#1c1c1c" stroke-width="1.25" stroke-dasharray="13.2 4 1.5 3.5 1.5 4.3"/>
<text transform="translate(269.5 728.9) scale(0.88 1)" font-size="8.7" font-weight="bold" fill="#151515" stroke="#151515" stroke-width="0.18">S4</text>
<path d="M38.2 770.1C38.3 768.5 38.5 764.0 38.8 760.3C39.1 756.6 39.6 751.3 40.0 747.7C40.5 744.2 40.9 741.1 41.3 738.9C41.7 736.7 41.8 735.9 42.6 734.5C43.3 733.2 44.4 732.0 45.7 730.8C46.9 729.5 48.5 728.3 50.1 727.0C51.7 725.8 53.2 724.4 55.1 723.2C57.0 722.0 59.3 720.8 61.4 719.8C63.5 718.9 65.6 718.1 67.7 717.3C69.8 716.6 71.8 715.9 73.9 715.3C76.0 714.8 78.1 714.5 80.2 714.1C82.3 713.6 85.1 712.9 86.5 712.6C87.9 712.2 87.4 712.5 88.6 712.0C89.7 711.5 91.9 710.7 93.6 709.5C95.3 708.4 96.9 707.0 98.6 705.1C100.3 703.2 101.9 700.8 103.6 698.2C105.3 695.6 107.0 692.3 108.6 689.4C110.3 686.5 112.0 683.4 113.7 680.6C115.3 677.8 117.1 674.8 118.7 672.4C120.3 670.1 121.9 668.0 123.1 666.8C124.2 665.6 124.4 665.2 125.6 665.2C126.7 665.1 128.4 666.0 130.0 666.5C131.6 667.1 133.8 667.6 135.0 668.3C136.2 669.0 136.6 669.3 137.3 670.6C137.9 671.8 138.2 673.5 138.8 675.6C139.3 677.7 140.0 680.4 140.7 683.1C141.3 685.8 141.9 688.8 142.5 691.9C143.2 695.1 143.8 698.6 144.4 702.0C145.0 705.3 145.5 708.7 146.1 712.0C146.6 715.4 147.1 719.4 147.6 722.1C148.0 724.7 148.2 724.9 148.7 728.0C149.1 731.1 149.6 736.0 150.2 740.6C150.7 745.2 151.5 750.6 152.1 755.6C152.6 760.7 153.2 765.9 153.7 770.7C154.2 775.5 154.7 780.3 155.2 784.5C155.7 788.7 156.1 791.8 156.5 795.8C156.9 799.8 157.1 803.9 157.6 808.6C158.1 813.2 158.7 818.4 159.5 823.6C160.2 828.9 161.1 834.9 162.0 840.0C162.9 845.0 164.1 850.1 165.1 853.8C166.2 857.5 167.3 860.2 168.3 862.0C169.2 863.7 169.6 863.7 170.8 864.5C171.9 865.2 173.9 865.9 175.2 866.4C176.4 866.8 177.3 867.5 178.3 867.4C179.4 867.3 180.3 866.7 181.5 865.7C182.6 864.7 184.0 863.0 185.2 861.3C186.5 859.7 187.7 857.7 189.0 855.7C190.2 853.7 191.5 851.5 192.8 849.4C194.0 847.3 195.3 845.0 196.5 843.1C197.8 841.3 198.8 839.9 200.3 838.3C201.8 836.8 203.6 835.0 205.3 833.7C207.0 832.3 208.7 831.3 210.3 830.2C212.0 829.1 213.6 828.2 215.4 827.2C217.1 826.1 218.8 824.9 221.0 823.8C223.2 822.6 225.9 821.4 228.4 820.2C230.9 819.0 233.4 817.7 235.9 816.4C238.5 815.2 241.2 813.8 243.5 812.6C245.8 811.5 247.9 810.3 249.8 809.3C251.6 808.2 253.6 807.3 254.8 806.4C256.0 805.5 256.4 805.2 257.0 803.9C257.7 802.5 258.0 800.4 258.5 798.2C259.1 796.0 259.9 793.2 260.4 790.7C260.9 788.2 261.3 785.6 261.7 783.1C262.1 780.6 262.6 777.9 262.9 775.6C263.3 773.3 263.7 770.4 263.8 769.3" fill="none" stroke="#1c1c1c" stroke-width="1.2" stroke-linejoin="round"/>
<path d="M38.2 770.1C38.4 768.0 39.0 761.7 39.4 757.8C39.9 753.9 40.5 749.6 40.9 746.5C41.4 743.3 41.6 740.7 42.2 738.9C42.8 737.2 43.3 736.7 44.4 735.8C45.5 734.9 47.1 734.2 48.8 733.3C50.6 732.3 53.0 731.0 55.1 730.2C57.2 729.3 59.3 728.9 61.4 728.3C63.5 727.7 65.6 727.3 67.7 726.6C69.8 726.0 71.8 725.3 73.9 724.5C76.0 723.7 78.1 722.9 80.2 722.0C82.3 721.0 85.1 720.0 86.5 718.8C87.9 717.7 87.2 716.6 88.6 715.2C89.9 713.7 92.7 711.9 94.8 710.1C96.9 708.4 99.0 706.4 101.1 704.5C103.2 702.6 105.3 700.6 107.4 698.8C109.5 697.0 111.6 695.4 113.7 693.8C115.8 692.2 118.2 690.5 119.9 689.4C121.7 688.3 123.0 687.6 124.3 687.1C125.7 686.7 126.8 686.5 128.1 686.6C129.4 686.8 130.7 687.4 131.9 688.2C133.0 688.9 134.1 690.0 135.0 691.3C135.9 692.5 136.8 694.0 137.5 695.7C138.3 697.4 138.8 699.2 139.4 701.3C140.0 703.4 140.7 705.8 141.3 708.3C141.9 710.7 142.5 713.1 143.2 715.8C143.8 718.5 144.6 722.5 145.1 724.6C145.5 726.6 145.3 725.3 145.8 728.0C146.2 730.7 147.0 736.0 147.7 740.6C148.4 745.2 149.2 750.8 149.9 755.6C150.7 760.5 151.4 765.1 152.1 769.5C152.7 773.9 153.3 778.0 153.9 782.0C154.6 786.0 155.3 791.0 155.8 793.3C156.3 795.7 156.5 793.5 157.0 796.0C157.5 798.5 158.1 804.4 158.9 808.6C159.6 812.8 160.4 816.9 161.4 821.1C162.3 825.3 163.4 829.9 164.5 833.7C165.7 837.5 166.9 841.2 168.3 843.7C169.6 846.3 171.2 847.7 172.7 848.8C174.1 849.9 175.6 850.2 177.1 850.3C178.5 850.3 179.9 849.8 181.5 849.0C183.0 848.2 184.8 846.9 186.5 845.6C188.1 844.3 189.8 842.7 191.5 841.2C193.2 839.8 194.8 838.2 196.5 836.8C198.2 835.5 199.9 834.2 201.5 833.1C203.2 831.9 204.9 830.9 206.6 829.9C208.2 829.0 209.9 828.2 211.6 827.4C213.3 826.6 215.0 825.6 216.6 824.9C218.2 824.2 219.0 823.8 221.0 823.0C223.0 822.2 225.9 821.2 228.4 820.1C230.9 818.9 233.4 817.5 235.9 816.3C238.5 815.0 241.2 813.7 243.5 812.5C245.8 811.3 247.9 810.2 249.8 809.1C251.6 808.1 253.5 807.1 254.6 806.2C255.8 805.4 256.3 805.2 256.9 803.9C257.5 802.5 257.9 800.4 258.4 798.2C259.0 796.0 259.8 793.2 260.3 790.7C260.8 788.2 261.1 785.6 261.6 783.1C262.0 780.6 262.5 777.9 262.8 775.6C263.2 773.3 263.5 770.4 263.7 769.3" fill="none" stroke="#1c1c1c" stroke-width="1.5" stroke-dasharray="1.5 1.6" stroke-linejoin="round"/>
<path d="M47.3 769.7C47.7 768.4 48.6 764.8 49.5 761.6C50.3 758.3 51.7 753.6 52.6 750.3C53.5 746.9 54.3 743.9 55.1 741.5C55.9 739.0 56.5 737.2 57.4 735.8C58.2 734.4 58.8 734.0 60.1 733.3C61.4 732.6 63.5 732.0 65.2 731.4C66.8 730.8 68.5 730.5 70.2 729.9C71.8 729.3 73.5 728.6 75.2 727.9C76.9 727.2 78.5 726.5 80.2 725.8C81.9 725.0 83.9 724.1 85.2 723.2C86.6 722.4 87.0 721.8 88.6 720.8C90.2 719.8 92.7 718.3 94.8 717.0C96.9 715.8 99.0 714.6 101.1 713.3C103.2 711.9 105.3 710.1 107.4 708.9C109.5 707.7 111.8 706.6 113.7 706.0C115.5 705.4 116.6 705.3 118.7 705.1C120.8 705.0 124.3 704.7 126.2 705.1C128.1 705.5 128.8 706.6 130.0 707.6C131.1 708.7 132.1 709.8 133.1 711.4C134.2 713.0 135.3 715.1 136.3 717.0C137.2 719.0 138.0 721.2 138.8 723.3C139.5 725.4 140.0 726.7 140.7 729.6C141.3 732.5 142.0 736.6 142.9 740.6C143.8 744.5 145.0 748.9 146.2 753.1C147.3 757.3 148.5 761.5 149.5 765.7C150.6 769.9 151.6 774.1 152.7 778.3C153.7 782.4 155.0 787.9 155.8 790.8C156.6 793.8 156.9 793.7 157.6 796.0C158.3 798.3 159.2 801.7 160.1 804.8C161.1 807.9 162.1 811.5 163.2 814.8C164.4 818.2 165.8 822.3 167.0 824.9C168.3 827.5 169.4 829.0 170.8 830.5C172.1 832.1 173.8 833.5 175.2 834.3C176.5 835.2 177.6 835.3 178.9 835.6C180.3 835.8 181.9 836.1 183.3 835.9C184.8 835.8 186.2 835.3 187.7 834.7C189.3 834.1 191.1 833.3 192.8 832.4C194.4 831.5 196.1 830.3 197.8 829.3C199.4 828.2 201.1 827.2 202.8 826.2C204.5 825.1 206.1 824.0 207.8 823.0C209.5 822.1 211.2 821.3 212.8 820.5C214.5 819.7 215.5 819.2 217.9 818.0C220.2 816.8 224.8 814.5 227.2 813.3C229.5 812.1 230.6 811.5 232.2 810.8C233.7 810.0 235.1 809.5 236.6 808.9C238.0 808.2 239.5 807.5 241.0 806.7C242.4 806.0 244.1 805.4 245.4 804.5C246.6 803.6 247.6 802.8 248.2 801.3C248.9 799.9 249.0 798.1 249.5 795.7C250.0 793.3 250.5 789.8 251.0 786.9C251.5 784.0 252.1 780.8 252.5 778.1C252.9 775.4 253.4 771.8 253.5 770.6" fill="none" stroke="#1c1c1c" stroke-width="1.25" stroke-dasharray="6.8 2.7 1.5 2.7" stroke-linejoin="round"/>
<path d="M57.9 769.7C58.2 768.2 59.3 763.5 60.1 760.3C60.9 757.1 61.9 753.4 62.6 750.3C63.4 747.1 64.0 744.0 64.5 741.5C65.0 738.9 65.3 736.7 65.8 735.2C66.3 733.6 66.8 732.9 67.7 732.0C68.5 731.2 69.5 730.8 70.8 730.2C72.1 729.5 73.6 728.7 75.2 728.0C76.8 727.3 78.5 726.7 80.2 725.9C81.9 725.1 83.9 724.2 85.2 723.4C86.6 722.5 87.0 722.0 88.6 720.9C90.2 719.9 92.7 718.4 94.8 717.2C96.9 715.9 99.0 714.8 101.1 713.4C103.2 712.0 105.3 710.2 107.4 709.0C109.5 707.8 111.8 706.7 113.7 706.1C115.5 705.5 116.6 705.4 118.7 705.2C120.8 705.1 124.3 704.8 126.2 705.2C128.1 705.7 128.8 706.7 130.0 707.7C131.1 708.8 132.1 709.9 133.1 711.5C134.2 713.1 135.3 715.2 136.3 717.2C137.2 719.2 138.0 721.4 138.8 723.5C139.5 725.5 140.0 726.9 140.7 729.7C141.3 732.6 142.0 736.7 142.9 740.6C143.8 744.5 145.0 748.9 146.2 753.1C147.3 757.3 148.5 761.5 149.5 765.7C150.6 769.9 151.6 774.1 152.7 778.3C153.7 782.4 155.0 787.9 155.8 790.8C156.6 793.8 156.9 793.7 157.6 796.0C158.3 798.3 159.2 801.7 160.1 804.8C161.1 807.9 162.1 811.5 163.2 814.8C164.4 818.2 165.8 822.3 167.0 824.9C168.3 827.5 169.4 829.0 170.8 830.5C172.1 832.1 173.8 833.5 175.2 834.3C176.5 835.2 177.6 835.3 178.9 835.6C180.3 835.8 181.9 836.1 183.3 835.9C184.8 835.8 186.2 835.3 187.7 834.7C189.3 834.1 191.1 833.3 192.8 832.4C194.4 831.5 196.1 830.3 197.8 829.3C199.4 828.2 201.1 827.2 202.8 826.2C204.5 825.1 206.1 823.8 207.8 822.8C209.5 821.7 210.9 820.9 212.8 819.9C214.8 818.8 217.4 817.7 219.6 816.4C221.8 815.1 224.0 813.3 225.9 812.0C227.8 810.8 229.4 810.0 230.9 808.9C232.5 807.8 234.2 806.8 235.3 805.5C236.4 804.1 236.8 802.6 237.4 800.7C238.1 798.9 238.5 796.7 239.1 794.4C239.6 792.1 240.2 789.4 240.7 786.9C241.2 784.4 241.6 781.8 242.0 779.4C242.3 776.9 242.7 773.6 242.8 772.4" fill="none" stroke="#1c1c1c" stroke-width="1.25" stroke-dasharray="13.2 4 1.5 3.5 1.5 4.3" stroke-linejoin="round"/>
<text x="148.0" y="941.6" font-size="19.8" font-family="'Liberation Serif', serif" text-anchor="middle" fill="#111">(C3)</text></g>
<g id="C4"><path d="M440.70 666.50V870.00H665.60" fill="none" stroke="#1c1c1c" stroke-width="1.35"/>
<path d="M440.40 870.00v-4.6M496.70 870.00v-4.6M553.00 870.00v-4.6M609.30 870.00v-4.6M665.60 870.00v-4.6M440.70 854.10h4.6M440.70 832.58h4.6M440.70 811.05h4.6M440.70 789.52h4.6M440.70 768.00h4.6M440.70 746.48h4.6M440.70 724.95h4.6M440.70 703.42h4.6M440.70 681.90h4.6" fill="none" stroke="#1c1c1c" stroke-width="1.15"/>
<path d="M451.66 870.00v-2.3M462.92 870.00v-2.3M474.18 870.00v-2.3M485.44 870.00v-2.3M507.96 870.00v-2.3M519.22 870.00v-2.3M530.48 870.00v-2.3M541.74 870.00v-2.3M564.26 870.00v-2.3M575.52 870.00v-2.3M586.78 870.00v-2.3M598.04 870.00v-2.3M620.56 870.00v-2.3M631.82 870.00v-2.3M643.08 870.00v-2.3M654.34 870.00v-2.3M440.70 867.01h2.3M440.70 862.71h2.3M440.70 858.40h2.3M440.70 849.79h2.3M440.70 845.49h2.3M440.70 841.18h2.3M440.70 836.88h2.3M440.70 828.27h2.3M440.70 823.97h2.3M440.70 819.66h2.3M440.70 815.36h2.3M440.70 806.75h2.3M440.70 802.44h2.3M440.70 798.13h2.3M440.70 793.83h2.3M440.70 785.22h2.3M440.70 780.91h2.3M440.70 776.61h2.3M440.70 772.30h2.3M440.70 763.70h2.3M440.70 759.39h2.3M440.70 755.09h2.3M440.70 750.78h2.3M440.70 742.17h2.3M440.70 737.87h2.3M440.70 733.56h2.3M440.70 729.25h2.3M440.70 720.64h2.3M440.70 716.34h2.3M440.70 712.03h2.3M440.70 707.73h2.3M440.70 699.12h2.3M440.70 694.82h2.3M440.70 690.51h2.3M440.70 686.21h2.3M440.70 677.60h2.3M440.70 673.29h2.3M440.70 668.99h2.3" fill="none" stroke="#1c1c1c" stroke-width="0.85"/>
<text transform="translate(496.7 878.1) scale(0.92 1)" font-size="8.56" text-anchor="middle" fill="#222" stroke="#222" stroke-width="0.22">-0.5</text>
<text transform="translate(553.0 878.1) scale(0.92 1)" font-size="8.56" text-anchor="middle" fill="#222" stroke="#222" stroke-width="0.22">0</text>
<text transform="translate(609.3 878.1) scale(0.92 1)" font-size="8.56" text-anchor="middle" fill="#222" stroke="#222" stroke-width="0.22">0.5</text>
<text transform="translate(665.6 878.1) scale(0.92 1)" font-size="8.56" text-anchor="middle" fill="#222" stroke="#222" stroke-width="0.22">1</text>
<text transform="translate(437.9 684.8) scale(0.92 1)" font-size="8.56" text-anchor="end" fill="#222" stroke="#222" stroke-width="0.22">2</text>
<text transform="translate(437.9 706.3) scale(0.92 1)" font-size="8.56" text-anchor="end" fill="#222" stroke="#222" stroke-width="0.22">1.5</text>
<text transform="translate(437.9 727.8) scale(0.92 1)" font-size="8.56" text-anchor="end" fill="#222" stroke="#222" stroke-width="0.22">1</text>
<text transform="translate(437.9 749.4) scale(0.92 1)" font-size="8.56" text-anchor="end" fill="#222" stroke="#222" stroke-width="0.22">0.5</text>
<text transform="translate(437.9 770.9) scale(0.92 1)" font-size="8.56" text-anchor="end" fill="#222" stroke="#222" stroke-width="0.22">0</text>
<text transform="translate(437.9 792.4) scale(0.92 1)" font-size="8.56" text-anchor="end" fill="#222" stroke="#222" stroke-width="0.22">-0.5</text>
<text transform="translate(437.9 813.9) scale(0.92 1)" font-size="8.56" text-anchor="end" fill="#222" stroke="#222" stroke-width="0.22">-1</text>
<text transform="translate(437.9 835.5) scale(0.92 1)" font-size="8.56" text-anchor="end" fill="#222" stroke="#222" stroke-width="0.22">-1.5</text>
<text transform="translate(437.9 857.0) scale(0.92 1)" font-size="8.56" text-anchor="end" fill="#222" stroke="#222" stroke-width="0.22">-2</text>
<text transform="translate(553.3 892.3) scale(0.965 1)" font-size="9.84" font-weight="bold" text-anchor="middle" fill="#151515" stroke="#151515" stroke-width="0.18">Radial Position / Cyclone Radius</text>
<text transform="translate(416.6 767.9) rotate(-90) scale(0.965 1)" font-size="9.97" font-weight="bold" text-anchor="middle" fill="#151515" stroke="#151515" stroke-width="0.18">Tangential Velocity / Inlet Velocity</text>
<line x1="629.2" y1="698.6" x2="665.4" y2="698.6" stroke="#1c1c1c" stroke-width="1.2"/>
<text transform="translate(671.9 701.5) scale(0.88 1)" font-size="8.7" font-weight="bold" fill="#151515" stroke="#151515" stroke-width="0.18">S1</text>
<line x1="629.2" y1="708.2" x2="665.4" y2="708.2" stroke="#1c1c1c" stroke-width="1.5" stroke-dasharray="1.5 1.6"/>
<text transform="translate(671.9 711.1) scale(0.88 1)" font-size="8.7" font-weight="bold" fill="#151515" stroke="#151515" stroke-width="0.18">S2</text>
<line x1="629.2" y1="718.1" x2="665.4" y2="718.1" stroke="#1c1c1c" stroke-width="1.25" stroke-dasharray="6.8 2.7 1.5 2.7"/>
<text transform="translate(671.9 721.0) scale(0.88 1)" font-size="8.7" font-weight="bold" fill="#151515" stroke="#151515" stroke-width="0.18">S3</text>
<line x1="629.2" y1="727.6" x2="665.4" y2="727.6" stroke="#1c1c1c" stroke-width="1.25" stroke-dasharray="13.2 4 1.5 3.5 1.5 4.3"/>
<text transform="translate(671.9 730.5) scale(0.88 1)" font-size="8.7" font-weight="bold" fill="#151515" stroke="#151515" stroke-width="0.18">S4</text>
<path d="M441.5 767.7C441.6 766.2 441.8 762.0 442.2 758.3C442.5 754.6 443.0 749.5 443.4 745.7C443.8 742.0 444.1 738.3 444.7 735.7C445.2 733.1 445.6 731.7 446.6 730.0C447.5 728.4 448.9 726.9 450.3 725.6C451.8 724.4 453.5 723.4 455.3 722.5C457.2 721.6 459.3 721.1 461.6 720.4C463.9 719.7 466.6 719.0 469.2 718.4C471.7 717.7 474.2 717.1 476.7 716.6C479.2 716.1 481.9 715.7 484.2 715.3C486.5 715.0 488.4 714.6 490.5 714.3C492.6 714.1 494.9 714.0 496.8 713.7C498.7 713.4 500.3 713.3 501.8 712.4C503.2 711.6 504.4 710.4 505.5 708.9C506.5 707.3 507.0 705.4 508.0 703.2C508.9 701.0 510.0 698.4 511.1 695.7C512.3 693.0 513.6 689.6 514.9 686.9C516.1 684.2 517.4 681.8 518.6 679.4C519.9 676.9 521.2 674.4 522.4 672.4C523.7 670.5 525.0 668.6 526.2 667.4C527.3 666.2 528.1 665.5 529.3 665.2C530.6 664.8 532.3 665.0 533.7 665.2C535.1 665.3 536.5 665.5 537.5 666.2C538.5 666.9 539.0 667.8 539.7 669.3C540.5 670.8 541.2 672.9 541.9 675.0C542.6 677.1 543.3 679.3 544.0 681.9C544.7 684.5 545.4 687.5 546.0 690.7C546.6 693.8 547.2 697.4 547.8 700.7C548.3 704.1 548.9 707.4 549.4 710.8C549.9 714.1 550.3 717.9 550.7 720.8C551.0 723.7 551.1 724.7 551.4 728.0C551.7 731.3 552.2 736.0 552.7 740.6C553.1 745.2 553.7 750.8 554.2 755.6C554.6 760.5 555.0 765.1 555.4 769.5C555.8 773.9 556.3 778.0 556.7 782.0C557.1 786.0 557.4 790.7 557.7 793.3C557.9 796.0 557.8 794.9 558.2 798.0C558.6 801.1 559.4 806.6 560.1 811.8C560.8 817.1 561.8 824.0 562.6 829.4C563.4 834.9 564.3 840.1 565.1 844.5C565.9 848.9 566.8 852.5 567.6 855.8C568.5 859.0 569.3 862.0 570.1 864.0C571.0 865.9 571.7 866.8 572.6 867.7C573.6 868.6 574.5 869.0 575.8 869.4C577.0 869.7 578.9 870.1 580.2 869.6C581.4 869.1 582.1 867.9 583.3 866.5C584.6 865.0 586.1 862.9 587.7 860.8C589.3 858.7 591.1 856.3 592.7 853.9C594.4 851.5 596.1 848.9 597.8 846.4C599.4 843.9 601.1 841.3 602.8 838.8C604.4 836.4 606.1 833.9 607.8 831.5C609.5 829.2 611.4 826.5 612.8 824.6C614.3 822.8 615.3 821.8 616.6 820.6C617.8 819.5 618.8 818.7 620.4 817.7C621.9 816.8 624.2 815.7 626.0 815.0C627.8 814.2 629.0 814.1 631.2 813.4C633.3 812.7 636.2 811.6 638.7 810.9C641.2 810.2 644.1 809.7 646.2 809.3C648.3 808.9 649.8 808.9 651.2 808.4C652.7 807.9 653.9 807.3 655.0 806.5C656.2 805.7 657.3 804.6 658.1 803.4C659.0 802.1 659.5 800.7 660.0 799.0C660.6 797.2 661.1 795.0 661.5 792.7C662.0 790.4 662.4 787.7 662.8 785.2C663.2 782.6 663.5 779.9 663.8 777.6C664.1 775.3 664.5 773.0 664.8 771.3C665.1 769.7 665.5 768.2 665.7 767.6" fill="none" stroke="#1c1c1c" stroke-width="1.2" stroke-linejoin="round"/>
<path d="M441.5 767.7C441.7 765.9 442.1 760.9 442.5 757.0C443.0 753.2 443.6 748.0 444.0 744.5C444.5 740.9 444.8 738.0 445.3 735.7C445.8 733.4 446.2 732.1 447.2 730.7C448.1 729.2 449.4 728.2 450.9 727.1C452.5 726.1 454.6 725.2 456.6 724.4C458.6 723.6 460.8 723.1 462.9 722.5C465.0 721.9 467.1 721.2 469.2 720.6C471.2 720.0 473.3 719.4 475.4 718.7C477.5 718.1 479.6 717.5 481.7 716.8C483.8 716.2 486.1 715.7 488.0 715.0C489.9 714.2 491.7 713.5 493.0 712.4C494.4 711.4 494.5 710.3 496.0 708.9C497.6 707.4 500.2 705.5 502.3 703.9C504.4 702.2 506.7 700.4 508.6 698.8C510.5 697.3 511.9 696.0 513.6 694.4C515.3 692.9 517.0 691.0 518.6 689.4C520.3 687.8 522.1 686.2 523.7 685.0C525.2 683.9 526.8 683.0 528.1 682.5C529.3 682.0 530.0 681.8 531.2 681.9C532.3 682.0 533.8 682.5 535.0 683.1C536.1 683.8 537.2 684.4 538.1 685.6C539.0 686.9 539.9 688.8 540.6 690.7C541.3 692.5 541.9 694.6 542.5 696.9C543.1 699.2 543.8 701.8 544.4 704.5C545.0 707.2 545.6 710.3 546.3 713.3C546.9 716.2 547.7 719.6 548.1 722.1C548.6 724.5 548.5 724.9 548.9 728.0C549.3 731.1 550.2 736.4 550.8 740.6C551.4 744.8 552.0 748.5 552.7 753.1C553.4 757.7 554.2 763.4 554.9 768.2C555.7 773.0 556.3 777.8 557.1 782.0C557.8 786.2 558.8 790.7 559.2 793.3C559.6 796.0 559.1 795.5 559.5 798.0C559.8 800.5 560.6 804.5 561.3 808.1C562.1 811.6 562.9 815.6 563.9 819.4C564.8 823.1 565.8 827.5 567.0 830.7C568.1 833.8 569.4 836.0 570.8 838.2C572.1 840.4 573.6 842.4 575.2 843.9C576.7 845.3 578.8 846.6 580.2 847.0C581.5 847.4 582.1 846.9 583.3 846.4C584.6 845.8 586.1 844.9 587.7 843.9C589.3 842.8 591.1 841.3 592.7 840.1C594.4 838.8 596.1 837.6 597.8 836.3C599.4 835.1 601.1 833.8 602.8 832.5C604.4 831.3 606.1 830.0 607.8 828.8C609.5 827.5 611.1 826.2 612.8 825.0C614.5 823.9 616.4 822.7 617.8 821.9C619.3 821.0 620.2 820.6 621.6 820.0C623.0 819.4 624.6 818.7 626.0 818.1C627.4 817.5 628.0 817.3 629.9 816.6C631.8 815.8 635.1 814.7 637.4 813.8C639.7 812.9 641.8 812.0 643.7 811.3C645.6 810.5 647.3 809.9 648.7 809.3C650.2 808.6 651.2 808.2 652.5 807.5C653.8 806.8 655.2 806.2 656.3 805.3C657.3 804.4 658.1 803.6 658.8 802.1C659.4 800.6 659.8 798.7 660.3 796.5C660.8 794.3 661.5 791.0 661.9 788.9C662.4 786.8 662.6 785.9 662.9 783.9C663.3 781.9 663.6 779.2 663.9 777.0C664.3 774.8 664.6 772.3 664.9 770.7C665.2 769.1 665.7 768.1 665.8 767.6" fill="none" stroke="#1c1c1c" stroke-width="1.5" stroke-dasharray="1.5 1.6" stroke-linejoin="round"/>
<path d="M450.3 767.7C450.6 766.4 451.5 762.6 452.2 759.6C452.9 756.5 453.9 752.6 454.7 749.5C455.6 746.4 456.4 743.2 457.2 740.7C458.1 738.2 458.8 736.0 459.7 734.4C460.7 732.9 461.5 732.2 462.9 731.3C464.2 730.3 466.2 729.5 467.9 728.8C469.6 728.0 471.2 727.5 472.9 726.9C474.6 726.3 476.3 725.6 477.9 725.0C479.6 724.4 481.3 723.9 483.0 723.1C484.6 722.4 486.3 721.6 488.0 720.6C489.7 719.7 491.3 718.5 493.0 717.5C494.7 716.4 496.7 715.0 498.0 714.3C499.4 713.6 499.9 713.9 501.1 713.3C502.2 712.7 503.6 711.7 504.8 710.8C506.1 709.8 507.1 708.7 508.6 707.6C510.1 706.6 511.9 705.3 513.6 704.5C515.3 703.6 517.0 703.1 518.6 702.6C520.3 702.1 522.0 701.8 523.7 701.7C525.3 701.6 527.2 701.5 528.7 702.0C530.2 702.4 531.3 703.4 532.5 704.5C533.6 705.5 534.7 706.8 535.6 708.3C536.5 709.7 537.3 711.4 538.1 713.3C538.9 715.2 539.8 717.5 540.6 719.6C541.5 721.7 542.3 722.8 543.1 725.8C544.0 728.9 544.9 734.3 545.8 738.1C546.6 741.8 547.4 744.5 548.3 748.1C549.2 751.7 550.2 755.6 551.2 759.4C552.1 763.2 552.9 766.7 553.9 770.7C554.9 774.7 556.0 779.1 557.1 783.3C558.1 787.5 559.7 793.4 560.2 795.8C560.7 798.3 559.7 796.4 560.1 798.0C560.5 799.6 561.8 803.0 562.6 805.5C563.4 808.1 564.2 810.4 565.1 813.1C566.1 815.8 567.1 819.3 568.2 821.9C569.4 824.5 570.7 827.0 572.0 828.8C573.4 830.6 574.9 831.6 576.4 832.5C577.9 833.5 579.3 834.2 580.8 834.4C582.3 834.7 583.6 834.5 585.2 834.2C586.8 833.9 588.5 833.3 590.2 832.5C591.9 831.8 593.6 830.5 595.2 829.4C596.9 828.4 598.6 827.3 600.3 826.3C601.9 825.2 603.6 824.2 605.3 823.1C607.0 822.1 608.6 821.0 610.3 820.0C612.0 818.9 613.7 817.7 615.3 816.8C617.0 815.9 618.6 815.3 620.4 814.6C622.2 813.9 624.3 813.4 626.1 812.8C627.9 812.2 629.5 811.6 631.2 810.9C632.8 810.2 634.5 809.4 636.2 808.8C637.8 808.1 639.6 807.8 641.2 807.1C642.8 806.5 644.2 805.8 645.6 805.0C647.0 804.2 648.5 803.2 649.4 802.1C650.3 801.0 650.5 799.9 651.0 798.3C651.5 796.8 651.8 794.9 652.2 792.7C652.7 790.5 653.1 787.7 653.5 785.2C653.9 782.6 654.4 780.1 654.8 777.6C655.2 775.1 655.7 771.5 655.9 770.3" fill="none" stroke="#1c1c1c" stroke-width="1.25" stroke-dasharray="6.8 2.7 1.5 2.7" stroke-linejoin="round"/>
<path d="M460.1 767.7C460.5 767.0 461.6 765.1 462.2 763.3C462.9 761.5 463.5 759.6 463.9 757.0C464.3 754.5 464.4 751.2 464.8 748.3C465.1 745.3 465.6 741.9 466.0 739.5C466.4 737.0 466.7 735.4 467.3 733.8C467.8 732.2 468.3 731.0 469.2 730.0C470.0 729.1 471.0 728.6 472.3 727.9C473.5 727.2 474.9 726.7 476.7 725.9C478.5 725.1 481.1 724.1 483.0 723.3C484.8 722.4 486.3 721.7 488.0 720.7C489.7 719.8 491.3 718.6 493.0 717.6C494.7 716.6 496.7 715.2 498.0 714.5C499.4 713.8 499.9 714.0 501.1 713.4C502.2 712.8 503.6 711.8 504.8 710.9C506.1 709.9 507.1 708.8 508.6 707.7C510.1 706.7 511.9 705.4 513.6 704.6C515.3 703.8 517.0 703.2 518.6 702.7C520.3 702.3 522.0 701.9 523.7 701.8C525.3 701.7 527.2 701.6 528.7 702.1C530.2 702.6 531.3 703.6 532.5 704.6C533.6 705.7 534.7 706.9 535.6 708.4C536.5 709.8 537.3 711.5 538.1 713.4C538.9 715.3 539.8 717.6 540.6 719.7C541.5 721.8 542.3 722.9 543.1 726.0C544.0 729.0 544.9 734.4 545.8 738.1C546.6 741.7 547.4 744.5 548.3 748.1C549.2 751.7 550.2 755.6 551.2 759.4C552.1 763.2 552.9 766.7 553.9 770.7C554.9 774.7 556.0 779.1 557.1 783.3C558.1 787.5 559.7 793.4 560.2 795.8C560.7 798.3 559.7 796.4 560.1 798.0C560.5 799.6 561.8 803.0 562.6 805.5C563.4 808.1 564.2 810.4 565.1 813.1C566.1 815.8 567.1 819.3 568.2 821.9C569.4 824.5 570.7 827.0 572.0 828.8C573.4 830.6 574.9 831.6 576.4 832.5C577.9 833.5 579.3 834.2 580.8 834.4C582.3 834.7 583.6 834.5 585.2 834.2C586.8 833.9 588.5 833.3 590.2 832.5C591.9 831.8 593.6 830.5 595.2 829.4C596.9 828.4 598.6 827.3 600.3 826.3C601.9 825.2 603.6 824.2 605.3 823.1C607.0 822.1 608.6 821.0 610.3 820.0C612.0 818.9 613.7 817.8 615.3 816.8C617.0 815.9 618.8 814.9 620.4 814.1C621.9 813.3 623.3 812.9 624.9 812.2C626.5 811.4 628.2 810.5 629.9 809.6C631.6 808.8 633.5 808.2 634.9 807.1C636.4 806.1 637.8 804.9 638.7 803.4C639.6 801.8 639.7 799.7 640.2 797.7C640.7 795.7 641.3 793.7 641.8 791.4C642.3 789.1 642.7 786.4 643.1 783.9C643.4 781.4 643.7 778.7 644.0 776.4C644.2 774.1 644.6 771.1 644.7 770.1" fill="none" stroke="#1c1c1c" stroke-width="1.25" stroke-dasharray="13.2 4 1.5 3.5 1.5 4.3" stroke-linejoin="round"/>
<text x="552.5" y="941.6" font-size="19.8" font-family="'Liberation Serif', serif" text-anchor="middle" fill="#111">(C4)</text></g>
</svg>
</body></html>
